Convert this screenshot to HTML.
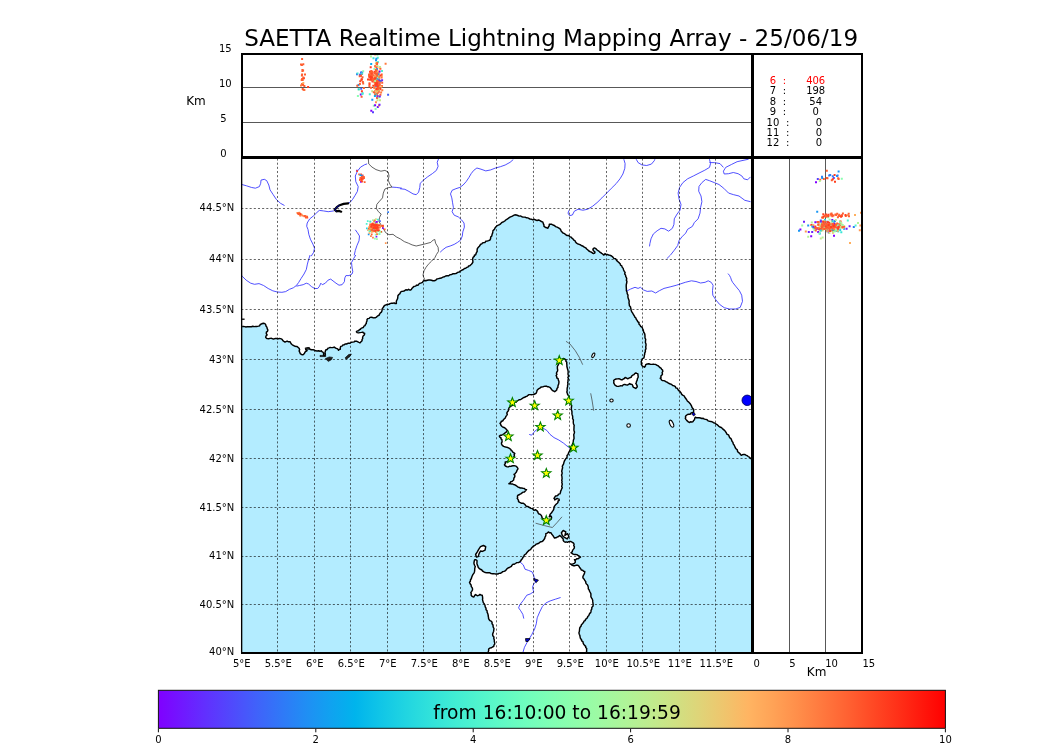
<!DOCTYPE html>
<html lang="en"><head><meta charset="utf-8"><title>SAETTA Realtime Lightning Mapping Array</title>
<style>html,body{margin:0;padding:0;background:#fff}body{width:1050px;height:750px;overflow:hidden}svg{display:block}text{font-family:"DejaVu Sans","Liberation Sans",sans-serif;fill:#000}</style>
</head><body>
<svg width="1050" height="750" viewBox="0 0 1050 750">
<defs>
<linearGradient id="rb" x1="0" y1="0" x2="1" y2="0"><stop offset="0.0000" stop-color="rgb(128,0,255)"/><stop offset="0.0312" stop-color="rgb(112,25,255)"/><stop offset="0.0625" stop-color="rgb(96,50,254)"/><stop offset="0.0938" stop-color="rgb(80,74,252)"/><stop offset="0.1250" stop-color="rgb(64,98,250)"/><stop offset="0.1562" stop-color="rgb(48,120,247)"/><stop offset="0.1875" stop-color="rgb(32,142,244)"/><stop offset="0.2188" stop-color="rgb(16,162,240)"/><stop offset="0.2500" stop-color="rgb(0,180,236)"/><stop offset="0.2812" stop-color="rgb(16,197,231)"/><stop offset="0.3125" stop-color="rgb(32,212,225)"/><stop offset="0.3438" stop-color="rgb(48,225,219)"/><stop offset="0.3750" stop-color="rgb(64,236,212)"/><stop offset="0.4062" stop-color="rgb(80,244,205)"/><stop offset="0.4375" stop-color="rgb(96,250,197)"/><stop offset="0.4688" stop-color="rgb(112,254,189)"/><stop offset="0.5000" stop-color="rgb(128,255,180)"/><stop offset="0.5312" stop-color="rgb(143,254,171)"/><stop offset="0.5625" stop-color="rgb(159,250,162)"/><stop offset="0.5938" stop-color="rgb(175,244,152)"/><stop offset="0.6250" stop-color="rgb(191,236,142)"/><stop offset="0.6562" stop-color="rgb(207,225,131)"/><stop offset="0.6875" stop-color="rgb(223,212,120)"/><stop offset="0.7188" stop-color="rgb(239,197,109)"/><stop offset="0.7500" stop-color="rgb(255,180,98)"/><stop offset="0.7812" stop-color="rgb(255,162,86)"/><stop offset="0.8125" stop-color="rgb(255,142,74)"/><stop offset="0.8438" stop-color="rgb(255,120,62)"/><stop offset="0.8750" stop-color="rgb(255,98,50)"/><stop offset="0.9062" stop-color="rgb(255,74,37)"/><stop offset="0.9375" stop-color="rgb(255,50,25)"/><stop offset="0.9688" stop-color="rgb(255,25,13)"/><stop offset="1.0000" stop-color="rgb(255,0,0)"/></linearGradient>
<clipPath id="mapclip"><rect x="241.0" y="156.9" width="511.0" height="495.49"/></clipPath>
<clipPath id="topclip"><rect x="242" y="54" width="510" height="103.5"/></clipPath>
<clipPath id="rightclip"><rect x="752.5" y="157.5" width="109.5" height="495.5"/></clipPath>
</defs>
<rect width="1050" height="750" fill="#fff"/>
<text x="244.2" y="46.2" font-size="23.6" textLength="614" lengthAdjust="spacingAndGlyphs" id="title">SAETTA Realtime Lightning Mapping Array - 25/06/19</text>
<g id="map" clip-path="url(#mapclip)">
<rect x="241.0" y="156.9" width="511.0" height="495.49" fill="#b3ecff"/>
<path d="M240.0 326.4L242.1 326.4L243.4 326.4L244.7 326.6L246.0 327.0L247.3 326.6L248.6 326.7L250.0 326.7L251.4 326.7L252.8 326.3L254.3 326.6L255.7 326.4L257.2 326.4L258.6 326.1L259.7 325.7L260.2 324.4L261.4 324.0L262.4 323.5L263.6 323.3L264.9 323.6L265.7 324.6L266.0 326.0L266.9 327.1L267.2 328.6L267.9 330.0L267.5 331.3L266.4 332.1L266.3 333.7L267.1 335.0L266.0 336.0L265.7 337.4L266.3 338.1L267.1 338.6L268.6 338.8L270.0 338.4L271.5 338.3L272.9 338.9L274.1 338.9L275.4 338.4L276.6 338.5L277.9 338.9L279.3 338.5L280.7 338.6L282.1 339.3L282.9 340.7L283.9 341.4L285.0 342.1L286.0 341.6L287.1 341.1L288.5 341.8L290.0 341.7L290.7 342.9L291.4 344.0L292.3 344.8L293.3 345.3L294.3 346.0L295.7 346.4L297.1 346.4L298.2 347.5L299.3 348.6L299.6 349.7L299.1 351.0L299.7 352.1L300.3 353.7L301.7 354.6L302.7 354.8L303.6 354.3L304.5 353.3L305.0 352.1L306.0 351.3L307.1 350.7L306.2 350.2L305.7 349.3L306.7 348.4L307.9 347.9L309.2 348.2L310.0 349.3L311.4 349.8L312.9 349.7L314.3 350.0L315.6 350.8L317.1 351.0L318.6 350.8L320.0 351.3L321.4 350.7L321.9 351.7L322.9 352.1L323.6 353.1L323.6 354.3L323.6 355.4L325.0 355.4L325.4 354.1L325.0 352.9L325.3 351.4L325.7 350.0L327.1 349.5L327.9 348.3L329.0 347.9L330.2 347.4L331.4 347.6L332.9 347.5L334.3 347.1L335.6 348.1L337.1 348.6L338.0 349.3L338.6 350.3L339.2 349.4L340.3 349.3L340.3 347.8L340.7 346.4L342.0 346.1L342.9 345.0L344.1 344.9L345.1 344.0L346.4 344.0L347.6 343.5L348.7 343.1L350.0 343.3L351.3 342.3L352.9 342.1L354.1 341.9L355.0 341.1L356.5 341.2L357.9 341.9L358.9 342.4L360.0 342.9L361.0 341.7L362.1 340.7L362.0 339.6L362.7 338.6L362.6 337.4L363.1 336.0L364.3 335.0L364.6 334.1L364.6 333.1L363.5 333.0L362.9 332.1L361.4 332.4L360.0 332.6L358.6 332.9L357.1 332.6L356.4 331.7L357.2 330.9L358.6 330.8L359.3 329.7L360.4 329.3L361.1 328.3L362.1 327.9L363.3 327.5L363.9 326.2L365.0 325.7L365.4 324.5L366.3 323.5L366.4 322.1L367.0 321.0L367.0 319.6L367.9 318.6L369.2 318.4L370.0 317.4L371.2 317.3L372.4 317.5L373.6 317.9L375.1 317.8L376.4 317.1L377.3 316.3L378.2 315.6L379.3 315.0L379.7 313.8L380.4 312.8L381.4 312.1L382.0 310.7L382.1 309.2L382.9 307.9L383.7 306.8L384.3 305.7L385.3 305.1L386.4 304.7L387.6 304.3L388.9 304.4L390.0 303.6L391.4 303.3L392.9 303.2L394.3 302.9L395.2 303.6L396.4 303.6L396.3 302.3L396.4 301.1L396.9 300.0L397.6 298.7L397.8 297.2L397.9 295.7L398.8 294.5L400.0 293.6L400.5 292.3L401.4 291.4L402.7 291.3L403.9 291.1L405.0 290.3L406.1 289.7L407.5 290.1L408.6 289.3L409.5 290.0L410.7 290.0L411.5 289.2L412.1 288.2L412.9 287.4L414.1 286.4L415.7 286.1L416.4 285.1L417.9 285.3L418.6 284.3L419.9 283.3L421.4 282.9L422.5 282.3L423.2 281.2L424.3 280.7L425.8 280.8L427.2 280.3L428.6 280.0L430.0 280.0L431.5 280.2L432.9 280.7L434.3 280.7L435.7 280.3L436.4 279.3L437.5 278.9L438.6 278.6L440.0 278.2L441.5 278.0L442.9 277.1L444.3 276.8L445.6 276.0L447.1 275.7L448.7 275.7L449.9 274.7L451.4 274.6L452.7 273.8L454.2 273.7L455.7 273.6L456.9 273.0L457.9 272.2L459.3 272.1L460.0 271.2L461.1 270.6L462.1 270.0L463.4 269.5L464.4 268.5L465.7 268.3L466.6 267.4L467.9 267.1L468.6 266.0L469.8 265.8L470.6 265.0L471.4 264.3L472.3 263.3L472.9 262.1L472.8 260.7L472.6 259.3L472.8 258.1L473.3 257.1L474.3 256.4L474.4 255.2L475.8 254.7L476.0 253.6L476.6 252.4L477.2 251.3L477.1 250.0L477.4 248.4L478.6 247.1L479.4 246.3L480.0 245.2L480.7 244.3L481.8 243.9L482.5 243.0L483.6 242.6L484.9 242.6L485.8 241.2L487.1 241.1L488.6 240.6L490.0 240.0L490.6 238.6L490.7 237.1L491.8 235.9L492.1 234.3L492.6 233.1L492.8 231.9L492.9 230.7L493.8 229.9L494.6 229.1L495.0 227.9L496.0 226.7L497.1 225.7L498.3 225.2L499.5 224.6L500.6 223.9L501.4 222.9L502.5 222.1L503.7 221.7L504.8 221.0L505.7 220.0L506.8 219.3L507.9 218.7L508.9 217.8L510.0 217.1L511.2 216.6L512.4 216.1L513.6 215.4L514.9 214.8L516.4 215.0L517.8 215.5L519.2 216.1L520.7 216.0L521.8 216.7L523.0 217.0L524.3 217.1L525.5 217.3L526.6 217.8L527.9 217.9L528.9 218.5L530.0 219.0L531.4 219.2L532.8 219.8L534.4 219.3L535.7 220.0L537.1 220.5L538.6 220.0L540.0 220.7L541.4 221.5L542.9 222.1L543.3 223.6L543.9 224.9L544.0 226.4L545.2 227.2L546.6 227.7L547.9 228.3L548.4 227.0L549.2 225.8L549.3 224.3L550.5 224.3L551.8 224.3L552.9 225.0L554.4 225.5L555.6 226.6L557.1 227.1L558.5 227.8L559.7 228.6L560.7 229.7L561.1 231.1L562.1 232.1L563.2 233.1L564.6 233.7L565.7 234.6L566.8 235.4L568.2 235.4L569.3 236.0L570.1 236.9L571.4 237.3L572.1 238.3L573.1 239.0L573.8 240.1L575.0 240.7L575.6 242.1L576.6 243.2L577.9 244.0L579.3 244.4L580.7 245.0L581.9 245.8L583.2 246.3L584.3 247.1L585.7 247.8L586.7 249.0L587.9 250.0L588.9 251.0L590.1 251.7L591.4 252.1L592.4 253.0L593.6 253.6L594.6 253.2L595.0 252.1L594.1 251.3L593.3 250.4L592.9 249.3L593.5 248.5L594.3 247.9L595.4 248.4L596.4 249.1L597.1 250.0L598.4 250.8L599.5 251.8L600.7 252.6L601.7 253.4L602.7 254.0L603.6 255.0L604.5 254.5L605.0 253.6L606.0 254.5L607.4 254.5L608.6 255.0L610.2 255.3L611.6 256.0L612.9 257.1L613.8 258.4L615.5 258.7L616.4 260.0L617.2 261.1L618.3 262.0L619.3 262.9L620.2 263.8L620.5 265.2L621.8 265.8L622.1 267.1L623.2 268.4L623.6 270.0L624.3 271.4L625.1 272.5L624.7 274.0L625.6 275.1L625.7 276.4L626.4 277.6L626.7 278.8L626.4 280.2L626.9 281.4L626.7 283.0L626.3 284.5L626.2 286.1L626.3 287.6L626.4 289.2L626.4 290.7L627.1 292.2L627.2 293.7L628.0 295.2L627.9 296.8L628.2 298.3L628.8 299.8L629.2 301.2L629.0 302.9L629.3 304.4L629.4 305.7L630.4 306.7L630.7 308.0L631.0 309.2L631.2 310.5L631.8 311.9L632.7 313.2L633.4 314.5L634.3 315.8L634.8 317.1L635.9 318.0L636.3 319.4L637.3 320.4L637.6 321.7L639.0 322.5L638.9 324.0L639.9 325.0L640.7 326.4L642.1 327.3L642.7 328.8L643.2 329.9L643.5 331.1L643.7 332.3L644.5 333.3L644.9 334.8L645.0 336.4L645.0 338.0L645.7 339.4L645.5 341.0L645.4 342.5L646.0 344.0L646.0 345.5L645.7 347.0L646.0 348.6L645.3 350.1L645.4 351.6L644.8 352.9L644.7 354.3L644.3 355.6L644.2 357.0L643.7 358.1L642.3 358.7L641.9 360.0L641.2 361.5L641.4 363.0L641.4 364.7L642.4 366.1L643.4 366.7L644.5 367.2L645.4 366.0L645.7 364.6L647.2 364.0L648.8 363.8L650.3 364.3L651.8 364.4L653.3 364.1L654.5 364.4L655.8 364.5L656.8 365.2L657.9 365.6L658.9 366.5L659.8 367.5L661.0 368.1L661.6 369.2L662.6 370.1L662.8 371.4L662.1 372.6L662.5 374.1L661.7 375.2L660.9 376.1L661.0 377.4L660.2 378.3L661.1 378.9L661.5 380.0L662.5 380.6L663.7 380.6L664.9 381.0L665.9 381.7L667.0 382.1L668.1 382.9L669.2 383.5L670.4 384.0L671.6 384.4L672.7 385.5L674.2 385.9L675.4 386.7L675.8 387.9L677.3 388.3L677.9 389.3L678.5 390.5L679.7 391.1L680.3 392.1L681.1 393.0L681.5 394.1L682.6 395.1L684.1 395.8L684.8 397.2L685.8 398.5L686.7 399.8L687.3 401.0L688.4 401.8L689.3 402.7L690.2 403.7L690.9 404.8L691.5 405.9L691.9 407.2L692.6 408.4L693.6 409.3L693.7 410.9L693.3 412.5L692.0 412.7L690.9 413.2L690.1 414.2L688.8 414.3L687.5 414.5L686.5 415.3L685.5 416.3L685.7 417.3L685.3 418.3L685.9 419.4L686.7 420.4L687.5 421.1L688.3 421.9L689.3 422.5L690.5 421.8L691.9 422.0L693.0 421.6L693.6 420.5L694.5 419.7L694.7 418.5L695.2 417.3L696.5 417.8L697.8 417.7L699.2 417.8L700.5 418.0L701.8 418.5L703.2 418.3L704.4 419.1L705.7 419.4L707.1 419.8L708.2 420.9L709.5 421.3L710.9 421.5L712.3 421.9L713.5 422.7L715.0 423.1L716.1 424.1L717.5 424.9L718.6 426.1L719.8 427.0L721.3 427.5L722.4 428.6L723.6 429.6L724.8 430.6L725.7 431.9L726.4 433.0L727.1 434.3L728.6 434.9L729.1 436.2L729.6 437.6L731.0 438.6L731.6 440.0L732.1 441.4L733.0 442.5L733.2 443.9L734.1 445.0L734.7 446.2L735.2 447.5L736.0 448.8L737.3 449.9L737.6 451.5L738.7 452.7L739.8 453.3L740.4 454.4L741.3 455.3L742.4 454.7L743.5 454.4L744.7 454.4L745.9 455.1L747.1 455.7L748.2 456.5L749.3 457.2L750.3 458.0L751.3 458.9L752.6 459.4L753.4 460.5L756.0 460.5L756.0 150.0L240.0 150.0Z" fill="#fff"/>
<path d="M613.7 380.6L614.7 379.6L616.0 379.0L617.5 378.9L619.0 378.7L620.1 379.1L621.0 379.8L622.1 379.8L623.1 379.1L624.3 378.5L625.1 377.5L626.4 378.0L627.4 378.7L628.5 378.5L629.4 377.9L630.5 377.5L631.4 377.0L631.8 375.8L632.8 375.2L633.9 374.7L634.7 373.6L635.8 373.0L636.8 373.4L637.8 373.7L637.9 375.0L638.2 376.2L638.1 377.5L637.4 378.7L637.2 380.1L636.6 381.3L636.3 382.5L635.8 383.6L636.6 384.5L636.9 385.6L637.3 386.7L636.6 387.6L635.8 388.5L634.7 387.8L633.5 387.4L632.9 386.5L632.6 385.3L632.0 384.4L630.8 384.3L629.7 383.6L628.6 384.4L627.4 385.1L625.9 384.8L624.4 384.4L623.1 384.9L622.1 385.9L620.8 385.8L619.5 386.1L618.3 386.4L616.7 386.2L615.2 385.4L614.4 384.2L613.7 382.9L613.9 381.7Z" fill="#fff"/>
<path d="M499.3 436.0L500.3 435.3L501.6 435.2L502.7 434.7L503.6 434.1L504.5 433.4L505.3 432.7L506.6 431.9L507.3 430.7L506.6 429.6L505.7 428.7L504.7 427.7L503.3 427.3L502.0 426.5L500.9 425.3L500.7 424.2L500.0 423.3L500.9 422.5L501.3 421.3L502.6 421.0L503.3 420.0L504.2 418.9L505.3 418.0L505.8 416.6L506.7 415.3L507.3 414.3L506.8 413.1L507.3 412.0L508.2 411.1L508.6 409.9L508.7 408.7L509.3 407.5L510.3 406.7L511.3 406.0L512.4 405.3L512.9 404.1L514.0 403.3L514.6 402.3L516.0 402.3L516.7 401.3L518.0 400.5L519.3 399.7L520.8 399.5L522.0 398.7L523.2 397.7L524.7 397.3L525.7 396.6L527.0 396.2L528.0 395.3L529.0 394.6L530.2 394.6L531.3 394.7L532.5 394.6L533.6 394.6L534.7 394.0L536.0 393.3L536.7 392.0L537.0 390.5L538.0 389.3L538.9 388.7L539.9 388.2L540.7 387.3L541.8 387.0L542.9 386.9L544.0 386.4L545.1 386.2L546.3 386.1L547.3 386.7L548.6 386.8L549.8 387.3L550.7 388.3L551.6 389.5L552.7 390.7L553.7 391.2L554.7 391.7L555.7 390.9L556.7 390.0L557.0 388.5L558.0 387.3L557.9 386.2L558.2 385.1L558.7 384.0L558.9 382.6L558.9 381.3L558.3 380.0L558.1 378.7L556.8 378.0L556.7 376.7L556.1 375.6L556.9 374.4L556.4 373.3L556.8 372.2L557.5 371.2L557.7 370.0L557.4 368.9L557.4 367.8L557.3 366.7L558.0 365.3L558.7 364.0L559.3 362.6L560.0 361.3L561.1 360.4L562.0 359.3L563.1 358.5L564.4 358.7L565.1 359.5L566.0 360.0L565.9 361.2L566.8 362.2L566.7 363.3L566.9 364.9L566.9 366.5L567.3 368.0L567.6 369.3L568.0 370.6L568.2 372.0L568.0 373.3L568.1 374.7L568.7 376.0L567.9 377.4L568.4 378.7L568.0 380.0L568.0 381.3L567.7 382.6L568.0 384.0L567.6 385.3L567.6 386.7L567.2 388.0L567.1 389.3L567.2 390.7L566.8 392.0L567.3 393.3L567.7 394.8L568.9 395.9L569.3 397.3L569.4 398.8L570.0 400.1L570.7 401.3L570.6 402.7L570.8 404.1L571.5 405.3L571.6 406.7L571.3 408.0L571.4 409.4L571.7 410.7L572.0 412.0L571.9 413.4L572.1 414.7L572.6 416.0L572.7 417.3L572.6 418.7L573.4 419.9L573.3 421.3L573.3 422.7L573.5 424.0L574.2 425.3L574.0 426.6L574.0 428.0L573.9 429.3L574.0 430.7L574.5 432.0L574.3 433.3L573.7 434.7L573.9 436.2L574.0 437.6L574.0 438.8L573.4 440.0L573.3 441.2L573.2 442.4L572.6 443.7L572.2 445.1L571.6 446.4L570.6 447.5L570.4 449.0L570.0 450.4L569.2 451.6L568.5 453.0L568.1 454.4L567.0 455.5L567.1 457.3L566.0 458.4L565.2 459.7L564.4 461.0L563.9 462.4L563.6 463.8L562.9 465.1L562.3 466.4L562.6 467.7L562.3 468.8L562.0 470.0L561.7 471.2L562.1 472.5L562.1 473.7L561.5 475.1L561.9 476.3L562.0 477.6L562.1 478.9L561.7 480.2L562.1 481.4L561.8 482.7L562.3 484.0L562.0 485.2L561.7 486.4L562.3 487.7L561.7 488.8L561.2 490.1L560.6 491.4L560.4 492.8L559.9 493.9L558.5 494.1L558.0 495.2L556.9 495.9L555.6 496.0L554.8 497.2L554.0 498.4L554.7 499.1L554.8 500.0L556.0 499.2L557.2 498.4L558.1 498.9L559.1 499.2L559.2 500.4L558.0 501.2L558.0 502.4L557.3 503.3L556.4 504.0L555.6 504.8L554.7 505.9L554.0 507.2L553.9 508.3L553.7 509.4L553.2 510.4L552.3 511.5L551.6 512.8L550.8 513.6L550.0 514.4L549.8 515.7L549.2 516.8L550.1 516.6L550.8 516.0L551.4 516.7L551.6 517.6L551.2 519.1L550.0 520.0L548.9 521.0L547.6 521.6L546.3 521.5L545.3 520.8L544.4 520.0L543.8 519.0L542.7 518.5L542.0 517.6L541.8 516.4L541.2 515.4L540.4 514.4L539.0 514.0L538.0 512.8L537.6 511.3L536.4 510.4L535.4 509.7L534.2 510.3L533.2 509.6L532.3 508.6L531.0 508.4L530.0 507.7L528.9 507.3L528.0 506.4L526.8 506.4L525.8 505.8L525.2 504.8L524.4 504.0L523.4 503.3L522.3 503.3L521.2 503.2L519.8 502.4L518.5 501.6L518.5 500.4L517.9 499.3L517.2 498.4L517.6 497.4L517.4 496.2L518.0 495.2L519.1 494.8L520.1 494.1L521.2 493.6L522.1 492.8L523.1 492.1L524.4 492.0L525.5 490.8L526.5 489.6L525.3 489.4L524.4 488.5L523.1 488.4L521.8 488.0L520.4 488.0L519.3 487.5L518.2 487.1L517.2 486.4L516.0 485.5L514.8 484.8L513.7 484.6L512.7 484.0L511.6 484.0L510.2 483.8L508.9 483.7L510.2 483.0L510.8 481.6L512.0 481.5L512.8 480.7L513.7 480.0L513.8 478.8L514.1 477.7L514.8 476.8L514.8 475.5L514.0 474.4L515.0 473.8L515.7 472.9L516.4 472.0L516.8 470.9L517.3 469.8L518.0 468.8L517.4 467.5L516.4 466.4L515.2 465.9L514.0 465.6L512.9 465.8L511.8 466.0L510.8 466.4L509.4 466.3L508.2 466.9L506.8 466.7L505.4 466.0L504.4 464.8L505.3 463.5L505.2 461.9L506.4 461.9L507.5 461.5L508.4 460.8L509.3 459.9L510.3 459.3L511.6 459.2L512.2 458.2L513.1 457.5L514.0 456.8L514.4 455.8L514.1 454.6L514.8 453.6L514.0 452.8L512.9 452.3L512.4 451.2L511.3 450.7L510.9 449.5L510.0 448.8L509.0 448.2L507.9 447.6L506.8 447.2L505.7 447.1L504.7 446.7L503.6 446.4L502.3 445.4L501.5 444.0L501.5 442.9L502.1 441.9L502.0 440.8L501.9 439.6L500.9 438.8L500.9 437.6L499.8 437.1Z" fill="#fff"/>
<path d="M487.7 654.2L488.3 652.9L488.3 651.6L488.7 650.3L488.6 649.0L489.8 648.1L491.2 647.8L492.5 647.0L493.8 646.4L493.9 645.2L494.7 644.1L494.7 642.9L494.3 641.5L494.3 640.0L493.8 638.6L493.9 637.0L492.8 635.7L492.6 634.2L493.1 632.8L493.6 631.4L493.8 629.9L494.0 628.5L493.3 627.3L493.0 626.0L492.9 624.7L492.0 623.7L492.1 622.2L491.2 621.2L490.0 620.7L489.2 619.8L488.6 618.6L488.5 617.3L488.2 616.0L488.1 614.7L487.7 613.4L487.1 612.2L487.1 610.7L486.0 609.7L486.0 608.2L485.2 606.9L485.0 605.3L484.3 603.9L483.3 602.6L482.9 601.1L482.5 599.6L482.7 598.1L482.5 596.7L482.2 595.2L481.0 595.0L479.9 594.4L478.8 595.4L477.3 595.7L476.4 595.2L475.6 594.4L474.6 595.5L473.9 597.0L472.8 596.7L471.8 596.1L471.1 595.0L471.3 593.7L470.8 592.6L471.7 591.4L472.5 590.0L472.5 588.7L472.1 587.6L471.3 586.6L471.1 585.0L470.1 583.7L469.5 582.2L470.4 581.2L470.5 579.8L471.3 578.8L471.7 577.2L472.3 575.8L473.0 574.4L474.0 573.1L474.5 571.7L474.7 570.1L474.7 568.9L474.9 567.8L475.3 566.6L474.7 565.5L474.2 564.4L473.9 563.1L474.1 562.0L474.3 560.8L474.7 559.7L476.0 559.8L477.0 560.5L477.0 562.0L476.9 563.5L477.3 564.9L477.9 566.1L478.2 567.3L479.1 568.4L480.2 569.3L481.6 569.8L482.5 571.0L483.9 571.8L485.3 572.5L486.9 572.7L488.4 572.8L489.9 572.8L491.2 573.6L492.5 573.7L493.8 573.8L495.1 573.9L496.4 573.9L497.8 574.0L499.0 573.4L500.4 573.3L501.6 572.7L502.5 571.7L503.8 571.4L505.0 571.0L506.0 570.1L506.9 568.9L508.0 568.0L509.4 567.5L510.4 566.9L511.4 566.3L512.0 565.2L513.0 564.3L514.4 564.2L515.5 563.5L516.8 562.6L518.5 562.6L519.8 561.8L520.8 560.9L521.4 559.6L522.4 558.8L522.8 557.5L523.8 556.6L524.2 555.3L525.0 554.5L526.1 553.8L526.8 552.7L527.6 551.8L528.4 550.9L529.4 550.1L530.6 549.6L531.2 548.5L532.0 547.5L532.8 546.7L534.0 545.8L535.3 545.1L536.3 544.1L537.5 543.7L538.8 543.3L539.8 542.3L540.9 541.7L542.2 541.5L543.2 540.6L544.0 539.5L544.7 538.5L545.0 537.1L545.6 536.1L545.9 534.9L545.8 533.7L547.3 533.1L548.4 531.9L549.6 532.8L551.0 532.8L551.8 534.2L552.8 535.4L553.6 536.7L554.5 538.0L555.9 537.8L557.1 537.1L558.6 536.5L559.7 535.4L560.6 536.2L561.5 537.1L562.3 538.0L563.2 539.0L563.2 540.4L564.0 541.5L565.1 542.2L566.4 541.9L567.5 542.3L568.6 541.7L569.7 541.5L571.0 541.5L572.3 542.3L573.6 543.2L574.1 544.3L573.7 545.6L574.4 546.7L574.3 548.0L573.5 549.1L572.7 550.1L572.2 551.7L571.0 552.7L572.1 553.5L573.2 554.1L574.4 554.5L575.7 554.5L576.9 554.6L577.9 555.3L579.2 556.2L580.5 557.1L579.2 557.9L577.9 558.8L576.7 558.7L575.7 559.8L574.4 559.7L575.2 560.9L575.3 562.3L574.2 563.4L572.7 564.0L571.4 564.3L570.1 564.0L571.4 564.4L572.3 565.4L573.6 565.7L575.0 565.7L576.4 565.1L577.9 565.2L579.0 566.2L579.6 567.5L580.7 568.7L581.4 570.1L582.7 570.2L583.6 571.2L584.8 571.5L584.6 573.0L584.0 574.4L583.3 575.7L582.8 577.0L583.2 578.3L584.2 579.3L584.8 580.5L585.7 581.4L585.8 582.9L586.4 584.0L587.4 584.8L588.0 586.1L588.3 587.4L588.3 588.9L589.2 590.0L589.6 591.3L590.3 592.5L590.9 593.8L590.9 595.2L590.9 596.7L591.5 597.9L592.3 599.1L592.7 600.4L592.8 601.9L593.0 603.3L593.2 604.8L592.9 606.3L591.8 607.5L591.8 609.1L591.1 610.1L591.0 611.4L590.7 612.6L589.7 613.4L589.2 614.5L588.7 615.7L587.7 616.5L587.4 617.8L586.4 618.5L585.6 619.4L585.1 620.6L584.0 621.2L583.4 622.6L582.4 623.7L581.4 624.7L581.0 626.2L579.9 627.5L579.6 629.0L579.5 630.3L579.3 631.6L578.9 632.9L579.3 634.2L579.9 635.6L580.1 637.1L580.5 638.6L581.5 639.5L581.6 640.9L582.9 641.6L583.1 642.9L583.7 644.3L584.6 645.4L585.7 646.4L585.7 647.6L586.7 648.6L586.6 649.8L586.7 651.3L586.1 652.7L586.2 654.2Z" fill="#fff"/>
<path d="M476.5 557.1L475.6 554.5L477.3 551.9L478.7 549.3L480.5 546.7L483.4 545.5L485.7 546.7L485.1 550.1L482.5 551.4L480.5 551.0L479.1 553.6L478.2 556.6Z" fill="#fff"/>
<path d="M561.4 532.8L563.2 530.5L565.8 531.9L564.9 535.4L567.5 533.7L568.9 536.3L567.2 538.9L564.0 537.1L562.3 535.4Z" fill="#fff"/>
<path d="M241.9 184.5L246.5 185.8L251.3 187.4L255.4 188.2L259.4 186.6L260.7 183.3L261.0 180.1L264.3 179.3L266.7 180.6L268.8 185.0L270.0 189.8L273.2 194.7L276.4 199.5L280.5 203.3L284.5 205.5M367.1 163.9L364.7 164.7L360.6 167.1L357.4 171.2L355.3 176.0L355.8 181.7L358.2 186.6L357.4 191.4L355.0 195.5L352.5 199.5L350.1 202.3L347.7 203.3M333.9 210.9L328.2 211.7L323.4 210.9L319.3 210.4L316.9 212.5L313.7 215.7L309.6 219.0L307.2 223.0L306.7 226.2L308.0 229.5L308.8 234.3L310.4 239.2L312.9 244.1L314.5 248.1L313.7 252.2L311.2 256.2M355.3 229.8L357.4 232.7L359.5 236.0L359.0 240.8L356.9 245.7L355.3 250.5L354.2 255.4M391.9 187.1L396.2 187.4L401.9 188.2M400.0 188.7L404.9 189.3L408.9 191.4L413.0 193.9L416.2 194.7L418.6 192.2L419.8 187.4L420.2 183.3L423.5 180.1L427.5 176.9L432.4 173.6L436.4 170.4L438.1 166.3L437.2 162.3L438.5 159.0M513.3 159.5L510.1 162.3L505.2 165.0L500.4 166.7L495.5 168.0L490.7 169.9L485.8 170.9L481.0 169.2L476.9 168.0L473.7 170.4L471.2 173.6L468.8 177.7L466.1 181.7L463.1 185.0L459.9 187.4L455.9 188.7L452.1 190.3L450.5 193.9L451.8 197.9L452.6 202.8L453.4 207.6L452.1 211.7L454.2 215.2L458.3 216.9L461.5 219.8L464.0 223.0L464.4 227.1L462.8 231.9L462.3 236.0L460.7 240.0L457.5 242.4L454.2 244.4L450.2 246.0L446.1 247.3L442.9 249.7L440.2 252.2M623.8 159.2L625.1 163.6L624.8 168.3L622.9 174.0L620.0 178.8L616.2 183.6L611.4 188.3L606.7 193.1L601.9 197.9L597.1 202.6L592.4 206.4L587.6 209.3L582.9 210.2L578.1 209.3L574.3 211.2L572.4 215.0L569.5 215.6L568.0 213.1L569.1 210.2M636.2 159.2L638.1 162.6L641.9 164.9L646.7 165.5L651.4 164.1L654.3 160.7L654.9 159.2M709.5 159.2L710.5 163.6L709.5 167.4L704.8 170.2L699.0 173.1L693.3 176.0L687.6 178.8L682.9 182.6L679.6 187.4L678.1 193.1L679.0 198.8L681.0 204.5L680.0 210.2L677.1 214.0L674.3 218.8L673.9 224.5L672.4 228.3L668.6 231.2L664.8 228.9L661.0 228.3L657.1 230.8L653.3 234.0L651.0 238.8L649.9 243.6L649.5 246.4M750.5 201.7L744.8 200.3L739.0 196.0L733.3 194.6L728.6 193.1L723.8 188.3L719.0 184.5L714.3 182.6L709.5 180.7L705.7 179.4L701.9 182.6L699.0 186.4L698.7 191.2L701.0 196.0L701.9 201.7L700.6 207.4L700.0 213.1L698.1 218.8L694.3 222.6L692.4 226.4L687.6 229.3L685.7 233.1L681.9 236.9L679.0 240.7L677.7 245.5L674.3 250.2L670.5 255.0L666.7 258.8M748.6 159.2L737.1 161.7L731.4 164.5L725.7 167.4L723.4 171.2L724.2 174.0L728.6 173.7L733.3 172.5L738.1 173.7L741.9 176.0L743.8 178.8L747.6 179.8L750.5 176.9M709.5 162.6L714.3 162.6L720.0 163.6L723.4 167.4M626.2 291.4L630.5 289.1L635.0 287.3L638.1 288.4L640.4 287.3L643.4 289.9L647.2 291.4L651.8 291.0L655.6 293.0L659.4 290.7L664.0 288.4L670.1 286.9L676.2 285.3L680.8 283.8L685.3 282.3L691.4 280.8L696.0 281.5L700.6 283.0L705.1 282.3L708.2 280.8L711.2 282.3L713.1 285.3L712.5 290.7L712.8 295.2L715.8 299.8L719.6 304.4L724.2 307.7L729.5 309.0L735.6 309.0L740.2 307.4L742.5 301.3L741.7 295.2L739.4 290.7L735.6 286.1L732.6 282.3L731.4 280.0L730.7 277.7L729.5 275.4L728.0 273.6M529.2 434.4L531.6 435.2L534.8 431.2L538.0 428.8L542.8 428.0L546.8 430.4L550.0 434.4L554.0 437.6L558.8 440.0L563.6 443.2L568.4 447.2L571.6 448.5M519.8 561.8L523.3 564.9L525.0 569.2L528.5 570.4L532.0 571.8L533.7 575.3L534.6 579.6L536.3 581.4L533.7 584.0L532.5 587.4L533.7 591.8L530.2 594.0L526.8 595.2L523.3 600.4L519.8 604.8L518.6 607.9L520.7 610.8L522.8 614.3L523.8 618.6M560.6 597.5L555.4 599.2L550.2 600.9L545.8 603.0L542.4 606.5L539.8 611.7L537.2 617.8L536.3 623.8L534.6 629.0L532.0 634.2L529.4 638.6L526.8 642.9L524.5 647.2L522.4 654.2M310.1 255.0L308.6 259.6L307.4 264.1L306.3 269.5L304.0 274.0L301.0 278.6L298.7 282.4L296.4 285.5L293.3 287.8L289.5 289.3L285.7 291.6L281.9 292.3L277.3 292.0L272.8 290.8L268.2 288.5L263.6 285.5L259.0 283.6L254.5 284.3L250.7 283.2L246.1 280.1L242.3 276.3L240.8 274.5M355.8 255.0L353.5 258.8L351.5 262.6L352.0 267.2L352.8 271.8L352.0 274.0L349.0 275.6L345.9 275.6L344.8 277.9L344.4 281.7L342.1 284.7L339.0 285.2L336.0 283.2L333.0 280.9L330.7 279.1L328.1 280.1L325.3 283.2L322.3 284.7L320.8 283.2L319.5 286.2L317.7 288.5L314.7 288.5L311.6 286.7L308.6 284.0L306.3 283.2L303.2 284.7L299.4 285.5L296.4 286.2" fill="none" stroke="#3030ff" stroke-width="0.85" stroke-linejoin="round"/>
<path d="M368.2 156.6L368.7 163.9L372.0 167.1L376.0 169.6L380.9 171.2L384.9 170.4L388.2 172.0L389.0 176.0L388.2 180.1L389.8 184.1L391.9 187.1L388.2 187.7L384.9 189.0L383.3 193.1L382.5 197.9L379.6 201.1L376.8 204.4L376.3 208.4L378.4 211.7L381.2 214.1L379.6 217.3L378.9 221.4L380.9 224.6L383.3 228.7L385.7 232.7L389.0 234.7L393.0 234.3L396.2 236.8L400.3 238.9L404.3 241.6L408.4 243.2L412.1 244.9L416.2 246.0L421.0 244.9L425.9 243.7L430.8 242.4L433.2 240.0L434.8 239.5L435.6 243.2L438.1 247.3L438.5 251.3L436.4 254.6L434.8 257.8L431.6 261.1L428.3 264.3L425.9 267.5L424.0 270.8L423.0 275.0L423.6 277.1L425.0 280.0" fill="none" stroke="#3a3a3a" stroke-width="0.8" stroke-linejoin="round"/>
<path d="M566.0 341.3L570.0 344.0L575.3 350.7L579.3 357.3L582.7 364.7M590.7 393.3L592.0 400.0L593.7 410.7M535.6 523.2L544.4 525.6L552.4 527.5L557.2 522.4L562.0 516.8" fill="none" stroke="#3a3a3a" stroke-width="0.7" stroke-linejoin="round"/>
<path d="M242.1 326.4L243.4 326.4L244.7 326.6L246.0 327.0L247.3 326.6L248.6 326.7L250.0 326.7L251.4 326.7L252.8 326.3L254.3 326.6L255.7 326.4L257.2 326.4L258.6 326.1L259.7 325.7L260.2 324.4L261.4 324.0L262.4 323.5L263.6 323.3L264.9 323.6L265.7 324.6L266.0 326.0L266.9 327.1L267.2 328.6L267.9 330.0L267.5 331.3L266.4 332.1L266.3 333.7L267.1 335.0L266.0 336.0L265.7 337.4L266.3 338.1L267.1 338.6L268.6 338.8L270.0 338.4L271.5 338.3L272.9 338.9L274.1 338.9L275.4 338.4L276.6 338.5L277.9 338.9L279.3 338.5L280.7 338.6L282.1 339.3L282.9 340.7L283.9 341.4L285.0 342.1L286.0 341.6L287.1 341.1L288.5 341.8L290.0 341.7L290.7 342.9L291.4 344.0L292.3 344.8L293.3 345.3L294.3 346.0L295.7 346.4L297.1 346.4L298.2 347.5L299.3 348.6L299.6 349.7L299.1 351.0L299.7 352.1L300.3 353.7L301.7 354.6L302.7 354.8L303.6 354.3L304.5 353.3L305.0 352.1L306.0 351.3L307.1 350.7L306.2 350.2L305.7 349.3L306.7 348.4L307.9 347.9L309.2 348.2L310.0 349.3L311.4 349.8L312.9 349.7L314.3 350.0L315.6 350.8L317.1 351.0L318.6 350.8L320.0 351.3L321.4 350.7L321.9 351.7L322.9 352.1L323.6 353.1L323.6 354.3L323.6 355.4L325.0 355.4L325.4 354.1L325.0 352.9L325.3 351.4L325.7 350.0L327.1 349.5L327.9 348.3L329.0 347.9L330.2 347.4L331.4 347.6L332.9 347.5L334.3 347.1L335.6 348.1L337.1 348.6L338.0 349.3L338.6 350.3L339.2 349.4L340.3 349.3L340.3 347.8L340.7 346.4L342.0 346.1L342.9 345.0L344.1 344.9L345.1 344.0L346.4 344.0L347.6 343.5L348.7 343.1L350.0 343.3L351.3 342.3L352.9 342.1L354.1 341.9L355.0 341.1L356.5 341.2L357.9 341.9L358.9 342.4L360.0 342.9L361.0 341.7L362.1 340.7L362.0 339.6L362.7 338.6L362.6 337.4L363.1 336.0L364.3 335.0L364.6 334.1L364.6 333.1L363.5 333.0L362.9 332.1L361.4 332.4L360.0 332.6L358.6 332.9L357.1 332.6L356.4 331.7L357.2 330.9L358.6 330.8L359.3 329.7L360.4 329.3L361.1 328.3L362.1 327.9L363.3 327.5L363.9 326.2L365.0 325.7L365.4 324.5L366.3 323.5L366.4 322.1L367.0 321.0L367.0 319.6L367.9 318.6L369.2 318.4L370.0 317.4L371.2 317.3L372.4 317.5L373.6 317.9L375.1 317.8L376.4 317.1L377.3 316.3L378.2 315.6L379.3 315.0L379.7 313.8L380.4 312.8L381.4 312.1L382.0 310.7L382.1 309.2L382.9 307.9L383.7 306.8L384.3 305.7L385.3 305.1L386.4 304.7L387.6 304.3L388.9 304.4L390.0 303.6L391.4 303.3L392.9 303.2L394.3 302.9L395.2 303.6L396.4 303.6L396.3 302.3L396.4 301.1L396.9 300.0L397.6 298.7L397.8 297.2L397.9 295.7L398.8 294.5L400.0 293.6L400.5 292.3L401.4 291.4L402.7 291.3L403.9 291.1L405.0 290.3L406.1 289.7L407.5 290.1L408.6 289.3L409.5 290.0L410.7 290.0L411.5 289.2L412.1 288.2L412.9 287.4L414.1 286.4L415.7 286.1L416.4 285.1L417.9 285.3L418.6 284.3L419.9 283.3L421.4 282.9L422.5 282.3L423.2 281.2L424.3 280.7L425.8 280.8L427.2 280.3L428.6 280.0L430.0 280.0L431.5 280.2L432.9 280.7L434.3 280.7L435.7 280.3L436.4 279.3L437.5 278.9L438.6 278.6L440.0 278.2L441.5 278.0L442.9 277.1L444.3 276.8L445.6 276.0L447.1 275.7L448.7 275.7L449.9 274.7L451.4 274.6L452.7 273.8L454.2 273.7L455.7 273.6L456.9 273.0L457.9 272.2L459.3 272.1L460.0 271.2L461.1 270.6L462.1 270.0L463.4 269.5L464.4 268.5L465.7 268.3L466.6 267.4L467.9 267.1L468.6 266.0L469.8 265.8L470.6 265.0L471.4 264.3L472.3 263.3L472.9 262.1L472.8 260.7L472.6 259.3L472.8 258.1L473.3 257.1L474.3 256.4L474.4 255.2L475.8 254.7L476.0 253.6L476.6 252.4L477.2 251.3L477.1 250.0L477.4 248.4L478.6 247.1L479.4 246.3L480.0 245.2L480.7 244.3L481.8 243.9L482.5 243.0L483.6 242.6L484.9 242.6L485.8 241.2L487.1 241.1L488.6 240.6L490.0 240.0L490.6 238.6L490.7 237.1L491.8 235.9L492.1 234.3L492.6 233.1L492.8 231.9L492.9 230.7L493.8 229.9L494.6 229.1L495.0 227.9L496.0 226.7L497.1 225.7L498.3 225.2L499.5 224.6L500.6 223.9L501.4 222.9L502.5 222.1L503.7 221.7L504.8 221.0L505.7 220.0L506.8 219.3L507.9 218.7L508.9 217.8L510.0 217.1L511.2 216.6L512.4 216.1L513.6 215.4L514.9 214.8L516.4 215.0L517.8 215.5L519.2 216.1L520.7 216.0L521.8 216.7L523.0 217.0L524.3 217.1L525.5 217.3L526.6 217.8L527.9 217.9L528.9 218.5L530.0 219.0L531.4 219.2L532.8 219.8L534.4 219.3L535.7 220.0L537.1 220.5L538.6 220.0L540.0 220.7L541.4 221.5L542.9 222.1L543.3 223.6L543.9 224.9L544.0 226.4L545.2 227.2L546.6 227.7L547.9 228.3L548.4 227.0L549.2 225.8L549.3 224.3L550.5 224.3L551.8 224.3L552.9 225.0L554.4 225.5L555.6 226.6L557.1 227.1L558.5 227.8L559.7 228.6L560.7 229.7L561.1 231.1L562.1 232.1L563.2 233.1L564.6 233.7L565.7 234.6L566.8 235.4L568.2 235.4L569.3 236.0L570.1 236.9L571.4 237.3L572.1 238.3L573.1 239.0L573.8 240.1L575.0 240.7L575.6 242.1L576.6 243.2L577.9 244.0L579.3 244.4L580.7 245.0L581.9 245.8L583.2 246.3L584.3 247.1L585.7 247.8L586.7 249.0L587.9 250.0L588.9 251.0L590.1 251.7L591.4 252.1L592.4 253.0L593.6 253.6L594.6 253.2L595.0 252.1L594.1 251.3L593.3 250.4L592.9 249.3L593.5 248.5L594.3 247.9L595.4 248.4L596.4 249.1L597.1 250.0L598.4 250.8L599.5 251.8L600.7 252.6L601.7 253.4L602.7 254.0L603.6 255.0L604.5 254.5L605.0 253.6L606.0 254.5L607.4 254.5L608.6 255.0L610.2 255.3L611.6 256.0L612.9 257.1L613.8 258.4L615.5 258.7L616.4 260.0L617.2 261.1L618.3 262.0L619.3 262.9L620.2 263.8L620.5 265.2L621.8 265.8L622.1 267.1L623.2 268.4L623.6 270.0L624.3 271.4L625.1 272.5L624.7 274.0L625.6 275.1L625.7 276.4L626.4 277.6L626.7 278.8L626.4 280.2L626.9 281.4L626.7 283.0L626.3 284.5L626.2 286.1L626.3 287.6L626.4 289.2L626.4 290.7L627.1 292.2L627.2 293.7L628.0 295.2L627.9 296.8L628.2 298.3L628.8 299.8L629.2 301.2L629.0 302.9L629.3 304.4L629.4 305.7L630.4 306.7L630.7 308.0L631.0 309.2L631.2 310.5L631.8 311.9L632.7 313.2L633.4 314.5L634.3 315.8L634.8 317.1L635.9 318.0L636.3 319.4L637.3 320.4L637.6 321.7L639.0 322.5L638.9 324.0L639.9 325.0L640.7 326.4L642.1 327.3L642.7 328.8L643.2 329.9L643.5 331.1L643.7 332.3L644.5 333.3L644.9 334.8L645.0 336.4L645.0 338.0L645.7 339.4L645.5 341.0L645.4 342.5L646.0 344.0L646.0 345.5L645.7 347.0L646.0 348.6L645.3 350.1L645.4 351.6L644.8 352.9L644.7 354.3L644.3 355.6L644.2 357.0L643.7 358.1L642.3 358.7L641.9 360.0L641.2 361.5L641.4 363.0L641.4 364.7L642.4 366.1L643.4 366.7L644.5 367.2L645.4 366.0L645.7 364.6L647.2 364.0L648.8 363.8L650.3 364.3L651.8 364.4L653.3 364.1L654.5 364.4L655.8 364.5L656.8 365.2L657.9 365.6L658.9 366.5L659.8 367.5L661.0 368.1L661.6 369.2L662.6 370.1L662.8 371.4L662.1 372.6L662.5 374.1L661.7 375.2L660.9 376.1L661.0 377.4L660.2 378.3L661.1 378.9L661.5 380.0L662.5 380.6L663.7 380.6L664.9 381.0L665.9 381.7L667.0 382.1L668.1 382.9L669.2 383.5L670.4 384.0L671.6 384.4L672.7 385.5L674.2 385.9L675.4 386.7L675.8 387.9L677.3 388.3L677.9 389.3L678.5 390.5L679.7 391.1L680.3 392.1L681.1 393.0L681.5 394.1L682.6 395.1L684.1 395.8L684.8 397.2L685.8 398.5L686.7 399.8L687.3 401.0L688.4 401.8L689.3 402.7L690.2 403.7L690.9 404.8L691.5 405.9L691.9 407.2L692.6 408.4L693.6 409.3L693.7 410.9L693.3 412.5L692.0 412.7L690.9 413.2L690.1 414.2L688.8 414.3L687.5 414.5L686.5 415.3L685.5 416.3L685.7 417.3L685.3 418.3L685.9 419.4L686.7 420.4L687.5 421.1L688.3 421.9L689.3 422.5L690.5 421.8L691.9 422.0L693.0 421.6L693.6 420.5L694.5 419.7L694.7 418.5L695.2 417.3L696.5 417.8L697.8 417.7L699.2 417.8L700.5 418.0L701.8 418.5L703.2 418.3L704.4 419.1L705.7 419.4L707.1 419.8L708.2 420.9L709.5 421.3L710.9 421.5L712.3 421.9L713.5 422.7L715.0 423.1L716.1 424.1L717.5 424.9L718.6 426.1L719.8 427.0L721.3 427.5L722.4 428.6L723.6 429.6L724.8 430.6L725.7 431.9L726.4 433.0L727.1 434.3L728.6 434.9L729.1 436.2L729.6 437.6L731.0 438.6L731.6 440.0L732.1 441.4L733.0 442.5L733.2 443.9L734.1 445.0L734.7 446.2L735.2 447.5L736.0 448.8L737.3 449.9L737.6 451.5L738.7 452.7L739.8 453.3L740.4 454.4L741.3 455.3L742.4 454.7L743.5 454.4L744.7 454.4L745.9 455.1L747.1 455.7L748.2 456.5L749.3 457.2L750.3 458.0L751.3 458.9L752.6 459.4L753.4 460.5M613.7 380.6L614.7 379.6L616.0 379.0L617.5 378.9L619.0 378.7L620.1 379.1L621.0 379.8L622.1 379.8L623.1 379.1L624.3 378.5L625.1 377.5L626.4 378.0L627.4 378.7L628.5 378.5L629.4 377.9L630.5 377.5L631.4 377.0L631.8 375.8L632.8 375.2L633.9 374.7L634.7 373.6L635.8 373.0L636.8 373.4L637.8 373.7L637.9 375.0L638.2 376.2L638.1 377.5L637.4 378.7L637.2 380.1L636.6 381.3L636.3 382.5L635.8 383.6L636.6 384.5L636.9 385.6L637.3 386.7L636.6 387.6L635.8 388.5L634.7 387.8L633.5 387.4L632.9 386.5L632.6 385.3L632.0 384.4L630.8 384.3L629.7 383.6L628.6 384.4L627.4 385.1L625.9 384.8L624.4 384.4L623.1 384.9L622.1 385.9L620.8 385.8L619.5 386.1L618.3 386.4L616.7 386.2L615.2 385.4L614.4 384.2L613.7 382.9L613.9 381.7ZM499.3 436.0L500.3 435.3L501.6 435.2L502.7 434.7L503.6 434.1L504.5 433.4L505.3 432.7L506.6 431.9L507.3 430.7L506.6 429.6L505.7 428.7L504.7 427.7L503.3 427.3L502.0 426.5L500.9 425.3L500.7 424.2L500.0 423.3L500.9 422.5L501.3 421.3L502.6 421.0L503.3 420.0L504.2 418.9L505.3 418.0L505.8 416.6L506.7 415.3L507.3 414.3L506.8 413.1L507.3 412.0L508.2 411.1L508.6 409.9L508.7 408.7L509.3 407.5L510.3 406.7L511.3 406.0L512.4 405.3L512.9 404.1L514.0 403.3L514.6 402.3L516.0 402.3L516.7 401.3L518.0 400.5L519.3 399.7L520.8 399.5L522.0 398.7L523.2 397.7L524.7 397.3L525.7 396.6L527.0 396.2L528.0 395.3L529.0 394.6L530.2 394.6L531.3 394.7L532.5 394.6L533.6 394.6L534.7 394.0L536.0 393.3L536.7 392.0L537.0 390.5L538.0 389.3L538.9 388.7L539.9 388.2L540.7 387.3L541.8 387.0L542.9 386.9L544.0 386.4L545.1 386.2L546.3 386.1L547.3 386.7L548.6 386.8L549.8 387.3L550.7 388.3L551.6 389.5L552.7 390.7L553.7 391.2L554.7 391.7L555.7 390.9L556.7 390.0L557.0 388.5L558.0 387.3L557.9 386.2L558.2 385.1L558.7 384.0L558.9 382.6L558.9 381.3L558.3 380.0L558.1 378.7L556.8 378.0L556.7 376.7L556.1 375.6L556.9 374.4L556.4 373.3L556.8 372.2L557.5 371.2L557.7 370.0L557.4 368.9L557.4 367.8L557.3 366.7L558.0 365.3L558.7 364.0L559.3 362.6L560.0 361.3L561.1 360.4L562.0 359.3L563.1 358.5L564.4 358.7L565.1 359.5L566.0 360.0L565.9 361.2L566.8 362.2L566.7 363.3L566.9 364.9L566.9 366.5L567.3 368.0L567.6 369.3L568.0 370.6L568.2 372.0L568.0 373.3L568.1 374.7L568.7 376.0L567.9 377.4L568.4 378.7L568.0 380.0L568.0 381.3L567.7 382.6L568.0 384.0L567.6 385.3L567.6 386.7L567.2 388.0L567.1 389.3L567.2 390.7L566.8 392.0L567.3 393.3L567.7 394.8L568.9 395.9L569.3 397.3L569.4 398.8L570.0 400.1L570.7 401.3L570.6 402.7L570.8 404.1L571.5 405.3L571.6 406.7L571.3 408.0L571.4 409.4L571.7 410.7L572.0 412.0L571.9 413.4L572.1 414.7L572.6 416.0L572.7 417.3L572.6 418.7L573.4 419.9L573.3 421.3L573.3 422.7L573.5 424.0L574.2 425.3L574.0 426.6L574.0 428.0L573.9 429.3L574.0 430.7L574.5 432.0L574.3 433.3L573.7 434.7L573.9 436.2L574.0 437.6L574.0 438.8L573.4 440.0L573.3 441.2L573.2 442.4L572.6 443.7L572.2 445.1L571.6 446.4L570.6 447.5L570.4 449.0L570.0 450.4L569.2 451.6L568.5 453.0L568.1 454.4L567.0 455.5L567.1 457.3L566.0 458.4L565.2 459.7L564.4 461.0L563.9 462.4L563.6 463.8L562.9 465.1L562.3 466.4L562.6 467.7L562.3 468.8L562.0 470.0L561.7 471.2L562.1 472.5L562.1 473.7L561.5 475.1L561.9 476.3L562.0 477.6L562.1 478.9L561.7 480.2L562.1 481.4L561.8 482.7L562.3 484.0L562.0 485.2L561.7 486.4L562.3 487.7L561.7 488.8L561.2 490.1L560.6 491.4L560.4 492.8L559.9 493.9L558.5 494.1L558.0 495.2L556.9 495.9L555.6 496.0L554.8 497.2L554.0 498.4L554.7 499.1L554.8 500.0L556.0 499.2L557.2 498.4L558.1 498.9L559.1 499.2L559.2 500.4L558.0 501.2L558.0 502.4L557.3 503.3L556.4 504.0L555.6 504.8L554.7 505.9L554.0 507.2L553.9 508.3L553.7 509.4L553.2 510.4L552.3 511.5L551.6 512.8L550.8 513.6L550.0 514.4L549.8 515.7L549.2 516.8L550.1 516.6L550.8 516.0L551.4 516.7L551.6 517.6L551.2 519.1L550.0 520.0L548.9 521.0L547.6 521.6L546.3 521.5L545.3 520.8L544.4 520.0L543.8 519.0L542.7 518.5L542.0 517.6L541.8 516.4L541.2 515.4L540.4 514.4L539.0 514.0L538.0 512.8L537.6 511.3L536.4 510.4L535.4 509.7L534.2 510.3L533.2 509.6L532.3 508.6L531.0 508.4L530.0 507.7L528.9 507.3L528.0 506.4L526.8 506.4L525.8 505.8L525.2 504.8L524.4 504.0L523.4 503.3L522.3 503.3L521.2 503.2L519.8 502.4L518.5 501.6L518.5 500.4L517.9 499.3L517.2 498.4L517.6 497.4L517.4 496.2L518.0 495.2L519.1 494.8L520.1 494.1L521.2 493.6L522.1 492.8L523.1 492.1L524.4 492.0L525.5 490.8L526.5 489.6L525.3 489.4L524.4 488.5L523.1 488.4L521.8 488.0L520.4 488.0L519.3 487.5L518.2 487.1L517.2 486.4L516.0 485.5L514.8 484.8L513.7 484.6L512.7 484.0L511.6 484.0L510.2 483.8L508.9 483.7L510.2 483.0L510.8 481.6L512.0 481.5L512.8 480.7L513.7 480.0L513.8 478.8L514.1 477.7L514.8 476.8L514.8 475.5L514.0 474.4L515.0 473.8L515.7 472.9L516.4 472.0L516.8 470.9L517.3 469.8L518.0 468.8L517.4 467.5L516.4 466.4L515.2 465.9L514.0 465.6L512.9 465.8L511.8 466.0L510.8 466.4L509.4 466.3L508.2 466.9L506.8 466.7L505.4 466.0L504.4 464.8L505.3 463.5L505.2 461.9L506.4 461.9L507.5 461.5L508.4 460.8L509.3 459.9L510.3 459.3L511.6 459.2L512.2 458.2L513.1 457.5L514.0 456.8L514.4 455.8L514.1 454.6L514.8 453.6L514.0 452.8L512.9 452.3L512.4 451.2L511.3 450.7L510.9 449.5L510.0 448.8L509.0 448.2L507.9 447.6L506.8 447.2L505.7 447.1L504.7 446.7L503.6 446.4L502.3 445.4L501.5 444.0L501.5 442.9L502.1 441.9L502.0 440.8L501.9 439.6L500.9 438.8L500.9 437.6L499.8 437.1ZM487.7 654.2L488.3 652.9L488.3 651.6L488.7 650.3L488.6 649.0L489.8 648.1L491.2 647.8L492.5 647.0L493.8 646.4L493.9 645.2L494.7 644.1L494.7 642.9L494.3 641.5L494.3 640.0L493.8 638.6L493.9 637.0L492.8 635.7L492.6 634.2L493.1 632.8L493.6 631.4L493.8 629.9L494.0 628.5L493.3 627.3L493.0 626.0L492.9 624.7L492.0 623.7L492.1 622.2L491.2 621.2L490.0 620.7L489.2 619.8L488.6 618.6L488.5 617.3L488.2 616.0L488.1 614.7L487.7 613.4L487.1 612.2L487.1 610.7L486.0 609.7L486.0 608.2L485.2 606.9L485.0 605.3L484.3 603.9L483.3 602.6L482.9 601.1L482.5 599.6L482.7 598.1L482.5 596.7L482.2 595.2L481.0 595.0L479.9 594.4L478.8 595.4L477.3 595.7L476.4 595.2L475.6 594.4L474.6 595.5L473.9 597.0L472.8 596.7L471.8 596.1L471.1 595.0L471.3 593.7L470.8 592.6L471.7 591.4L472.5 590.0L472.5 588.7L472.1 587.6L471.3 586.6L471.1 585.0L470.1 583.7L469.5 582.2L470.4 581.2L470.5 579.8L471.3 578.8L471.7 577.2L472.3 575.8L473.0 574.4L474.0 573.1L474.5 571.7L474.7 570.1L474.7 568.9L474.9 567.8L475.3 566.6L474.7 565.5L474.2 564.4L473.9 563.1L474.1 562.0L474.3 560.8L474.7 559.7L476.0 559.8L477.0 560.5L477.0 562.0L476.9 563.5L477.3 564.9L477.9 566.1L478.2 567.3L479.1 568.4L480.2 569.3L481.6 569.8L482.5 571.0L483.9 571.8L485.3 572.5L486.9 572.7L488.4 572.8L489.9 572.8L491.2 573.6L492.5 573.7L493.8 573.8L495.1 573.9L496.4 573.9L497.8 574.0L499.0 573.4L500.4 573.3L501.6 572.7L502.5 571.7L503.8 571.4L505.0 571.0L506.0 570.1L506.9 568.9L508.0 568.0L509.4 567.5L510.4 566.9L511.4 566.3L512.0 565.2L513.0 564.3L514.4 564.2L515.5 563.5L516.8 562.6L518.5 562.6L519.8 561.8L520.8 560.9L521.4 559.6L522.4 558.8L522.8 557.5L523.8 556.6L524.2 555.3L525.0 554.5L526.1 553.8L526.8 552.7L527.6 551.8L528.4 550.9L529.4 550.1L530.6 549.6L531.2 548.5L532.0 547.5L532.8 546.7L534.0 545.8L535.3 545.1L536.3 544.1L537.5 543.7L538.8 543.3L539.8 542.3L540.9 541.7L542.2 541.5L543.2 540.6L544.0 539.5L544.7 538.5L545.0 537.1L545.6 536.1L545.9 534.9L545.8 533.7L547.3 533.1L548.4 531.9L549.6 532.8L551.0 532.8L551.8 534.2L552.8 535.4L553.6 536.7L554.5 538.0L555.9 537.8L557.1 537.1L558.6 536.5L559.7 535.4L560.6 536.2L561.5 537.1L562.3 538.0L563.2 539.0L563.2 540.4L564.0 541.5L565.1 542.2L566.4 541.9L567.5 542.3L568.6 541.7L569.7 541.5L571.0 541.5L572.3 542.3L573.6 543.2L574.1 544.3L573.7 545.6L574.4 546.7L574.3 548.0L573.5 549.1L572.7 550.1L572.2 551.7L571.0 552.7L572.1 553.5L573.2 554.1L574.4 554.5L575.7 554.5L576.9 554.6L577.9 555.3L579.2 556.2L580.5 557.1L579.2 557.9L577.9 558.8L576.7 558.7L575.7 559.8L574.4 559.7L575.2 560.9L575.3 562.3L574.2 563.4L572.7 564.0L571.4 564.3L570.1 564.0L571.4 564.4L572.3 565.4L573.6 565.7L575.0 565.7L576.4 565.1L577.9 565.2L579.0 566.2L579.6 567.5L580.7 568.7L581.4 570.1L582.7 570.2L583.6 571.2L584.8 571.5L584.6 573.0L584.0 574.4L583.3 575.7L582.8 577.0L583.2 578.3L584.2 579.3L584.8 580.5L585.7 581.4L585.8 582.9L586.4 584.0L587.4 584.8L588.0 586.1L588.3 587.4L588.3 588.9L589.2 590.0L589.6 591.3L590.3 592.5L590.9 593.8L590.9 595.2L590.9 596.7L591.5 597.9L592.3 599.1L592.7 600.4L592.8 601.9L593.0 603.3L593.2 604.8L592.9 606.3L591.8 607.5L591.8 609.1L591.1 610.1L591.0 611.4L590.7 612.6L589.7 613.4L589.2 614.5L588.7 615.7L587.7 616.5L587.4 617.8L586.4 618.5L585.6 619.4L585.1 620.6L584.0 621.2L583.4 622.6L582.4 623.7L581.4 624.7L581.0 626.2L579.9 627.5L579.6 629.0L579.5 630.3L579.3 631.6L578.9 632.9L579.3 634.2L579.9 635.6L580.1 637.1L580.5 638.6L581.5 639.5L581.6 640.9L582.9 641.6L583.1 642.9L583.7 644.3L584.6 645.4L585.7 646.4L585.7 647.6L586.7 648.6L586.6 649.8L586.7 651.3L586.1 652.7L586.2 654.2M476.5 557.1L475.6 554.5L477.3 551.9L478.7 549.3L480.5 546.7L483.4 545.5L485.7 546.7L485.1 550.1L482.5 551.4L480.5 551.0L479.1 553.6L478.2 556.6ZM561.4 532.8L563.2 530.5L565.8 531.9L564.9 535.4L567.5 533.7L568.9 536.3L567.2 538.9L564.0 537.1L562.3 535.4Z" fill="none" stroke="#000" stroke-width="1.45" stroke-linejoin="round"/>
<ellipse cx="593.3" cy="355.3" rx="1.2" ry="2.5" transform="rotate(25 593.3 355.3)" fill="#fff" stroke="#000" stroke-width="1.05"/>
<ellipse cx="611.5" cy="400.4" rx="1.7" ry="1.5" transform="rotate(0 611.5 400.4)" fill="#fff" stroke="#000" stroke-width="1.05"/>
<ellipse cx="628.6" cy="425.5" rx="1.8" ry="1.8" transform="rotate(0 628.6 425.5)" fill="#fff" stroke="#000" stroke-width="1.05"/>
<ellipse cx="671.5" cy="423.7" rx="1.7" ry="3.8" transform="rotate(-25 671.5 423.7)" fill="#fff" stroke="#000" stroke-width="1.05"/>
<path d="M325.4 358.6L329.3 356.9L332.6 357.4L331.4 359.7L328.3 361.4Z" fill="#222" stroke="#000" stroke-width="0.6"/>
<path d="M345.0 357.9L348.6 354.6L351.4 354.0L350.0 356.4L346.4 359.3Z" fill="#222" stroke="#000" stroke-width="0.6"/>
<path d="M320.0 355.4L325.7 355.4L325.7 356.6L320.0 356.6Z" fill="#222" stroke="#000" stroke-width="0.6"/>
<path d="M305.0 347.9L309.3 347.4L309.3 349.3L305.7 349.6Z" fill="#222" stroke="#000" stroke-width="0.6"/>
<path d="M348.2 203.3L343.6 203.9L339.6 205.2L336.8 207.1L334.7 209.7L336.3 211.3L338.8 210.9L341.2 211.7" fill="none" stroke="#000" stroke-width="2.2" stroke-linecap="round" stroke-linejoin="round"/>
<path d="M339.6 205.2L336.8 207.1L334.7 209.7L336.3 211.3" fill="none" stroke="#0000c8" stroke-width="0.8"/>
<path d="M533.7 578.4L538.4 580.1L536.3 582.6L534.9 581.4Z" fill="#0000d0" stroke="#000" stroke-width="0.8"/>
<path d="M525.5 638.6L530.2 638.6L528.0 641.5L525.9 641.5Z" fill="#0000d0" stroke="#000" stroke-width="0.8"/>
<path d="M691.9 414.2L693.6 411.9L695.3 414.5L693.6 415.9Z" fill="#0000d0" stroke="#000" stroke-width="0.8"/>
<path d="M241 319.2H244.6" stroke="#000" stroke-width="1.3" fill="none"/>
<circle cx="747.2" cy="400.3" r="5.2" fill="#0000ff" stroke="#00006a" stroke-width="0.9"/>
<path d="M277.5 158.50V652.39M314.5 158.50V652.39M350.5 158.50V652.39M387.5 158.50V652.39M423.5 158.50V652.39M460.5 158.50V652.39M496.5 158.50V652.39M533.5 158.50V652.39M569.5 158.50V652.39M606.5 158.50V652.39M642.5 158.50V652.39M679.5 158.50V652.39M715.5 158.50V652.39M241.3 604.5H752.0M241.3 556.5H752.0M241.3 507.5H752.0M241.3 458.5H752.0M241.3 409.5H752.0M241.3 359.5H752.0M241.3 309.5H752.0M241.3 259.5H752.0M241.3 208.5H752.0" stroke="#000" stroke-width="1" stroke-dasharray="2.08 2.08" fill="none" opacity="0.6"/>
<path d="M360.1 181.0h1.7v1.7h-1.7z" fill="#8000ff"/>
<path d="M371.0 229.3h1.7v1.7h-1.7zM374.9 222.1h1.7v1.7h-1.7z" fill="#24d7df"/>
<path d="M373.3 220.0h1.7v1.7h-1.7zM365.8 223.0h1.7v1.7h-1.7zM374.0 227.6h1.7v1.7h-1.7z" fill="#4df3ce"/>
<path d="M369.1 227.9h1.7v1.7h-1.7zM378.7 230.8h1.7v1.7h-1.7zM374.8 228.3h1.7v1.7h-1.7z" fill="#8afeaf"/>
<path d="M372.1 219.2h1.7v1.7h-1.7zM380.6 231.2h1.7v1.7h-1.7z" fill="#9efaa3"/>
<path d="M298.5 211.7h1.7v1.7h-1.7z" fill="#ffaf5e"/>
<path d="M299.1 213.5h1.7v1.7h-1.7zM296.4 212.0h1.7v1.7h-1.7zM384.9 242.2h1.7v1.7h-1.7z" fill="#ff964f"/>
<path d="M372.9 230.6h1.7v1.7h-1.7zM372.1 236.7h1.7v1.7h-1.7zM305.2 216.1h1.7v1.7h-1.7z" fill="#ff7b3f"/>
<path d="M375.2 225.7h1.7v1.7h-1.7zM361.4 178.5h1.7v1.7h-1.7zM373.4 228.6h1.7v1.7h-1.7zM373.2 229.0h1.7v1.7h-1.7zM373.6 226.0h1.7v1.7h-1.7zM369.7 230.2h1.7v1.7h-1.7zM374.0 219.5h1.7v1.7h-1.7zM373.5 226.3h1.7v1.7h-1.7zM378.7 226.7h1.7v1.7h-1.7zM373.8 226.7h1.7v1.7h-1.7zM373.7 226.8h1.7v1.7h-1.7zM374.1 226.8h1.7v1.7h-1.7zM361.8 178.4h1.7v1.7h-1.7zM373.7 227.2h1.7v1.7h-1.7zM300.2 213.8h1.7v1.7h-1.7zM303.6 215.6h1.7v1.7h-1.7zM361.7 178.3h1.7v1.7h-1.7zM369.2 225.0h1.7v1.7h-1.7zM373.9 227.1h1.7v1.7h-1.7zM373.0 226.4h1.7v1.7h-1.7zM376.6 227.5h1.7v1.7h-1.7zM370.8 223.2h1.7v1.7h-1.7zM373.5 228.8h1.7v1.7h-1.7zM359.5 177.1h1.7v1.7h-1.7zM299.4 214.7h1.7v1.7h-1.7zM376.7 227.7h1.7v1.7h-1.7zM372.5 227.4h1.7v1.7h-1.7zM299.2 212.8h1.7v1.7h-1.7zM372.3 225.8h1.7v1.7h-1.7zM370.0 227.2h1.7v1.7h-1.7zM373.0 226.0h1.7v1.7h-1.7zM373.6 226.1h1.7v1.7h-1.7zM376.1 233.4h1.7v1.7h-1.7zM374.5 224.5h1.7v1.7h-1.7zM370.5 230.1h1.7v1.7h-1.7zM375.3 227.4h1.7v1.7h-1.7zM374.5 226.8h1.7v1.7h-1.7zM360.8 179.7h1.7v1.7h-1.7z" fill="#ff5e30"/>
<path d="M374.1 229.2h1.7v1.7h-1.7zM370.5 227.3h1.7v1.7h-1.7zM371.1 227.6h1.7v1.7h-1.7zM376.2 222.9h1.7v1.7h-1.7zM380.4 230.9h1.7v1.7h-1.7zM303.7 214.9h1.7v1.7h-1.7zM376.4 226.9h1.7v1.7h-1.7zM363.1 177.4h1.7v1.7h-1.7zM373.3 227.1h1.7v1.7h-1.7zM371.4 225.8h1.7v1.7h-1.7zM376.5 225.2h1.7v1.7h-1.7zM375.4 227.9h1.7v1.7h-1.7zM371.3 229.7h1.7v1.7h-1.7zM372.6 226.4h1.7v1.7h-1.7zM372.1 228.5h1.7v1.7h-1.7zM373.6 227.1h1.7v1.7h-1.7zM372.2 225.9h1.7v1.7h-1.7zM368.1 227.7h1.7v1.7h-1.7zM373.2 227.4h1.7v1.7h-1.7z" fill="#ff3f20"/>
<path d="M382.1 227.3h1.7v1.7h-1.7z" fill="#8000ff"/>
<path d="M356.1 169.8h1.7v1.7h-1.7zM374.3 227.0h1.7v1.7h-1.7z" fill="#6b20fe"/>
<path d="M367.8 233.6h1.7v1.7h-1.7z" fill="#1996f3"/>
<path d="M378.3 230.2h1.7v1.7h-1.7z" fill="#24d7df"/>
<path d="M366.9 220.2h1.7v1.7h-1.7zM378.6 233.2h1.7v1.7h-1.7z" fill="#4df3ce"/>
<path d="M373.4 228.0h1.7v1.7h-1.7zM369.2 220.7h1.7v1.7h-1.7zM371.8 224.3h1.7v1.7h-1.7zM376.0 231.1h1.7v1.7h-1.7zM376.5 222.8h1.7v1.7h-1.7z" fill="#9efaa3"/>
<path d="M372.8 227.7h1.7v1.7h-1.7z" fill="#b2f396"/>
<path d="M368.1 226.3h1.7v1.7h-1.7zM297.9 212.7h1.7v1.7h-1.7zM375.9 222.2h1.7v1.7h-1.7z" fill="#ffaf5e"/>
<path d="M298.9 214.2h1.7v1.7h-1.7zM374.0 227.7h1.7v1.7h-1.7zM380.1 225.1h1.7v1.7h-1.7zM374.5 224.8h1.7v1.7h-1.7zM374.0 229.0h1.7v1.7h-1.7zM373.1 220.5h1.7v1.7h-1.7z" fill="#ff964f"/>
<path d="M301.5 214.7h1.7v1.7h-1.7z" fill="#ff7b3f"/>
<path d="M370.9 233.6h1.7v1.7h-1.7zM361.9 174.6h1.7v1.7h-1.7zM371.5 222.8h1.7v1.7h-1.7zM370.0 230.1h1.7v1.7h-1.7zM370.3 227.7h1.7v1.7h-1.7zM372.8 223.8h1.7v1.7h-1.7zM360.8 175.7h1.7v1.7h-1.7zM372.5 228.2h1.7v1.7h-1.7zM361.2 177.1h1.7v1.7h-1.7zM371.3 230.6h1.7v1.7h-1.7zM374.3 226.4h1.7v1.7h-1.7zM363.9 181.2h1.7v1.7h-1.7zM373.9 227.9h1.7v1.7h-1.7zM373.4 227.2h1.7v1.7h-1.7zM370.8 224.5h1.7v1.7h-1.7zM372.8 226.4h1.7v1.7h-1.7zM373.3 224.8h1.7v1.7h-1.7zM382.2 225.5h1.7v1.7h-1.7zM369.6 226.3h1.7v1.7h-1.7zM373.4 227.0h1.7v1.7h-1.7zM374.1 227.6h1.7v1.7h-1.7zM374.0 226.1h1.7v1.7h-1.7zM372.4 226.6h1.7v1.7h-1.7zM373.8 227.1h1.7v1.7h-1.7zM376.3 224.2h1.7v1.7h-1.7zM377.4 229.7h1.7v1.7h-1.7zM373.5 228.5h1.7v1.7h-1.7zM367.4 229.2h1.7v1.7h-1.7zM372.5 228.0h1.7v1.7h-1.7zM369.6 226.8h1.7v1.7h-1.7zM375.9 229.3h1.7v1.7h-1.7zM375.8 226.8h1.7v1.7h-1.7zM358.2 173.6h1.7v1.7h-1.7zM372.9 224.8h1.7v1.7h-1.7zM374.4 226.9h1.7v1.7h-1.7zM374.8 226.9h1.7v1.7h-1.7zM373.0 228.0h1.7v1.7h-1.7zM303.5 215.1h1.7v1.7h-1.7zM383.9 228.5h1.7v1.7h-1.7zM375.5 226.8h1.7v1.7h-1.7z" fill="#ff5e30"/>
<path d="M359.1 178.8h1.7v1.7h-1.7zM306.5 216.8h1.7v1.7h-1.7zM369.5 227.4h1.7v1.7h-1.7zM360.2 173.5h1.7v1.7h-1.7zM369.9 228.8h1.7v1.7h-1.7zM369.8 228.0h1.7v1.7h-1.7zM297.2 212.7h1.7v1.7h-1.7zM360.9 178.3h1.7v1.7h-1.7zM374.7 224.4h1.7v1.7h-1.7zM373.6 227.1h1.7v1.7h-1.7zM373.8 228.8h1.7v1.7h-1.7zM362.8 176.5h1.7v1.7h-1.7zM370.3 225.5h1.7v1.7h-1.7z" fill="#ff3f20"/>
<path d="M376.1 221.0h1.7v1.7h-1.7zM374.6 221.6h1.7v1.7h-1.7z" fill="#8000ff"/>
<path d="M376.2 226.0h1.7v1.7h-1.7zM375.6 235.7h1.7v1.7h-1.7z" fill="#6b20fe"/>
<path d="M371.0 225.6h1.7v1.7h-1.7z" fill="#573ffd"/>
<path d="M359.4 174.2h1.7v1.7h-1.7z" fill="#05afed"/>
<path d="M366.0 227.6h1.7v1.7h-1.7z" fill="#24d7df"/>
<path d="M369.6 220.7h1.7v1.7h-1.7z" fill="#38e7d7"/>
<path d="M369.1 230.2h1.7v1.7h-1.7zM368.7 230.5h1.7v1.7h-1.7z" fill="#4df3ce"/>
<path d="M378.9 230.3h1.7v1.7h-1.7zM378.5 233.1h1.7v1.7h-1.7z" fill="#8afeaf"/>
<path d="M370.0 227.8h1.7v1.7h-1.7z" fill="#9efaa3"/>
<path d="M367.8 229.5h1.7v1.7h-1.7zM373.7 221.9h1.7v1.7h-1.7zM376.1 229.3h1.7v1.7h-1.7zM370.4 228.6h1.7v1.7h-1.7zM372.3 228.0h1.7v1.7h-1.7z" fill="#c7e789"/>
<path d="M375.9 224.4h1.7v1.7h-1.7z" fill="#ffaf5e"/>
<path d="M300.9 213.8h1.7v1.7h-1.7zM369.6 227.3h1.7v1.7h-1.7zM373.3 226.2h1.7v1.7h-1.7z" fill="#ff964f"/>
<path d="M371.1 227.3h1.7v1.7h-1.7zM370.1 235.2h1.7v1.7h-1.7zM375.2 229.0h1.7v1.7h-1.7z" fill="#ff7b3f"/>
<path d="M373.7 223.8h1.7v1.7h-1.7zM298.1 212.2h1.7v1.7h-1.7zM360.1 178.8h1.7v1.7h-1.7zM373.4 227.0h1.7v1.7h-1.7zM305.0 216.9h1.7v1.7h-1.7zM374.1 227.3h1.7v1.7h-1.7zM373.5 226.8h1.7v1.7h-1.7zM374.1 223.5h1.7v1.7h-1.7zM362.8 175.9h1.7v1.7h-1.7zM374.3 230.4h1.7v1.7h-1.7zM373.1 226.9h1.7v1.7h-1.7zM359.0 179.1h1.7v1.7h-1.7zM373.2 228.9h1.7v1.7h-1.7zM373.9 226.5h1.7v1.7h-1.7zM362.3 175.7h1.7v1.7h-1.7zM370.8 226.1h1.7v1.7h-1.7zM297.9 213.2h1.7v1.7h-1.7zM359.8 178.4h1.7v1.7h-1.7zM306.3 215.7h1.7v1.7h-1.7zM361.6 180.8h1.7v1.7h-1.7zM361.8 178.1h1.7v1.7h-1.7zM373.5 228.2h1.7v1.7h-1.7zM373.5 223.7h1.7v1.7h-1.7zM373.7 229.6h1.7v1.7h-1.7zM306.1 215.9h1.7v1.7h-1.7zM376.4 224.9h1.7v1.7h-1.7zM371.2 228.3h1.7v1.7h-1.7zM372.7 226.5h1.7v1.7h-1.7zM374.0 226.5h1.7v1.7h-1.7zM373.4 227.1h1.7v1.7h-1.7zM372.7 226.4h1.7v1.7h-1.7zM374.2 225.7h1.7v1.7h-1.7zM373.6 225.7h1.7v1.7h-1.7z" fill="#ff5e30"/>
<path d="M375.9 224.1h1.7v1.7h-1.7zM377.3 226.5h1.7v1.7h-1.7zM361.2 175.8h1.7v1.7h-1.7zM370.4 226.3h1.7v1.7h-1.7zM372.5 229.0h1.7v1.7h-1.7zM376.1 227.9h1.7v1.7h-1.7zM374.3 227.4h1.7v1.7h-1.7zM378.0 229.3h1.7v1.7h-1.7zM373.3 227.6h1.7v1.7h-1.7zM369.1 227.9h1.7v1.7h-1.7zM379.5 224.7h1.7v1.7h-1.7zM372.4 224.3h1.7v1.7h-1.7zM369.7 226.7h1.7v1.7h-1.7zM360.8 178.1h1.7v1.7h-1.7zM373.9 227.2h1.7v1.7h-1.7zM374.3 227.9h1.7v1.7h-1.7zM360.8 180.4h1.7v1.7h-1.7z" fill="#ff3f20"/>
<path d="M379.1 220.2h1.7v1.7h-1.7z" fill="#425efa"/>
<path d="M361.1 174.8h1.7v1.7h-1.7zM387.3 211.2h1.7v1.7h-1.7z" fill="#2e7bf7"/>
<path d="M372.9 228.5h1.7v1.7h-1.7zM377.1 218.7h1.7v1.7h-1.7z" fill="#38e7d7"/>
<path d="M374.8 233.8h1.7v1.7h-1.7zM374.1 237.7h1.7v1.7h-1.7z" fill="#8afeaf"/>
<path d="M376.1 238.2h1.7v1.7h-1.7z" fill="#9efaa3"/>
<path d="M379.4 231.1h1.7v1.7h-1.7zM369.9 227.1h1.7v1.7h-1.7zM373.8 227.1h1.7v1.7h-1.7z" fill="#b2f396"/>
<path d="M375.1 218.2h1.7v1.7h-1.7z" fill="#c7e789"/>
<path d="M371.0 231.0h1.7v1.7h-1.7zM368.6 232.2h1.7v1.7h-1.7zM377.9 224.5h1.7v1.7h-1.7z" fill="#ffaf5e"/>
<path d="M304.9 215.3h1.7v1.7h-1.7zM372.3 226.7h1.7v1.7h-1.7zM369.5 225.8h1.7v1.7h-1.7zM374.1 227.9h1.7v1.7h-1.7zM375.0 231.2h1.7v1.7h-1.7zM375.4 226.8h1.7v1.7h-1.7zM368.9 228.1h1.7v1.7h-1.7zM370.9 226.9h1.7v1.7h-1.7zM379.2 224.9h1.7v1.7h-1.7zM373.5 227.3h1.7v1.7h-1.7zM379.2 226.4h1.7v1.7h-1.7z" fill="#ff964f"/>
<path d="M376.2 233.4h1.7v1.7h-1.7zM374.3 228.2h1.7v1.7h-1.7z" fill="#ff7b3f"/>
<path d="M372.3 227.0h1.7v1.7h-1.7zM376.9 224.5h1.7v1.7h-1.7zM373.8 226.8h1.7v1.7h-1.7zM377.5 227.0h1.7v1.7h-1.7zM373.2 227.7h1.7v1.7h-1.7zM373.5 227.0h1.7v1.7h-1.7zM371.2 225.2h1.7v1.7h-1.7zM373.7 226.8h1.7v1.7h-1.7zM376.0 227.0h1.7v1.7h-1.7zM362.9 176.2h1.7v1.7h-1.7zM361.3 175.9h1.7v1.7h-1.7zM373.7 226.0h1.7v1.7h-1.7zM375.4 225.4h1.7v1.7h-1.7zM374.3 226.3h1.7v1.7h-1.7zM377.0 224.9h1.7v1.7h-1.7zM371.4 229.4h1.7v1.7h-1.7zM376.3 229.4h1.7v1.7h-1.7zM373.6 226.8h1.7v1.7h-1.7zM371.5 226.0h1.7v1.7h-1.7zM375.7 228.0h1.7v1.7h-1.7zM305.2 216.2h1.7v1.7h-1.7zM304.4 215.2h1.7v1.7h-1.7zM381.1 224.9h1.7v1.7h-1.7zM375.9 227.4h1.7v1.7h-1.7zM373.4 227.2h1.7v1.7h-1.7zM370.8 229.4h1.7v1.7h-1.7zM369.3 223.4h1.7v1.7h-1.7z" fill="#ff5e30"/>
<path d="M382.1 224.7h1.7v1.7h-1.7zM374.1 226.8h1.7v1.7h-1.7zM378.2 224.2h1.7v1.7h-1.7zM356.3 170.3h1.7v1.7h-1.7zM374.0 224.0h1.7v1.7h-1.7zM374.6 224.3h1.7v1.7h-1.7zM375.8 224.3h1.7v1.7h-1.7zM371.1 224.1h1.7v1.7h-1.7zM376.6 225.7h1.7v1.7h-1.7zM376.6 229.6h1.7v1.7h-1.7zM372.1 222.7h1.7v1.7h-1.7zM375.0 227.3h1.7v1.7h-1.7zM372.7 227.3h1.7v1.7h-1.7zM370.2 226.1h1.7v1.7h-1.7zM376.5 227.1h1.7v1.7h-1.7zM299.6 213.2h1.7v1.7h-1.7zM374.5 230.0h1.7v1.7h-1.7zM372.9 226.6h1.7v1.7h-1.7zM373.4 223.9h1.7v1.7h-1.7zM374.9 226.7h1.7v1.7h-1.7zM374.3 224.9h1.7v1.7h-1.7z" fill="#ff3f20"/><path d="M559.3 355.6L560.5 358.8L564.0 359.0L561.2 361.1L562.2 364.5L559.3 362.6L556.4 364.5L557.4 361.1L554.6 359.0L558.1 358.8ZM512.4 397.6L513.6 400.8L517.1 401.0L514.3 403.1L515.3 406.5L512.4 404.6L509.5 406.5L510.5 403.1L507.7 401.0L511.2 400.8ZM534.7 400.7L535.9 403.9L539.4 404.1L536.6 406.2L537.6 409.6L534.7 407.7L531.8 409.6L532.8 406.2L530.0 404.1L533.5 403.9ZM568.7 395.9L569.9 399.1L573.4 399.3L570.6 401.4L571.6 404.8L568.7 402.9L565.8 404.8L566.8 401.4L564.0 399.3L567.5 399.1ZM557.7 410.5L558.9 413.7L562.4 413.9L559.6 416.0L560.6 419.4L557.7 417.4L554.8 419.4L555.8 416.0L553.0 413.9L556.5 413.7ZM540.4 422.0L541.6 425.2L545.1 425.4L542.3 427.5L543.3 430.9L540.4 428.9L537.5 430.9L538.5 427.5L535.7 425.4L539.2 425.2ZM508.4 431.6L509.6 434.8L513.1 435.0L510.3 437.1L511.3 440.5L508.4 438.6L505.5 440.5L506.5 437.1L503.7 435.0L507.2 434.8ZM573.5 442.8L574.7 446.0L578.2 446.2L575.4 448.3L576.4 451.7L573.5 449.8L570.6 451.7L571.6 448.3L568.8 446.2L572.3 446.0ZM537.5 450.5L538.7 453.7L542.2 453.9L539.4 456.0L540.4 459.4L537.5 457.4L534.6 459.4L535.6 456.0L532.8 453.9L536.3 453.7ZM510.5 453.7L511.7 456.9L515.2 457.1L512.4 459.2L513.4 462.6L510.5 460.7L507.6 462.6L508.6 459.2L505.8 457.1L509.3 456.9ZM546.3 468.4L547.5 471.6L551.0 471.8L548.2 473.9L549.2 477.3L546.3 475.4L543.4 477.3L544.4 473.9L541.6 471.8L545.1 471.6ZM546.3 515.6L547.5 518.8L551.0 519.0L548.2 521.1L549.2 524.5L546.3 522.5L543.4 524.5L544.4 521.1L541.6 519.0L545.1 518.8Z" fill="#ffff00" stroke="#008000" stroke-width="1.05" stroke-linejoin="miter" stroke-miterlimit="4"/>
</g>
<g id="top">
<path d="M243 87.5H751M243 122.5H751" stroke="#585858" stroke-width="1" fill="none"/>
<g clip-path="url(#topclip)"><path d="M381.1 79.2h2.0v2.0h-2.0zM376.8 106.0h2.0v2.0h-2.0z" fill="#6b20fe"/>
<path d="M356.0 73.3h2.0v2.0h-2.0zM360.2 87.7h2.0v2.0h-2.0z" fill="#425efa"/>
<path d="M357.5 84.1h2.0v2.0h-2.0z" fill="#1996f3"/>
<path d="M370.2 63.0h2.0v2.0h-2.0zM377.2 82.4h2.0v2.0h-2.0z" fill="#05afed"/>
<path d="M376.8 56.8h2.0v2.0h-2.0zM368.8 93.3h2.0v2.0h-2.0z" fill="#4df3ce"/>
<path d="M375.6 73.5h2.0v2.0h-2.0zM374.8 90.8h2.0v2.0h-2.0zM372.8 104.8h2.0v2.0h-2.0zM374.6 108.0h2.0v2.0h-2.0z" fill="#8afeaf"/>
<path d="M375.9 84.7h2.0v2.0h-2.0z" fill="#9efaa3"/>
<path d="M357.8 88.4h2.0v2.0h-2.0zM376.3 80.3h2.0v2.0h-2.0z" fill="#b2f396"/>
<path d="M371.2 90.3h2.0v2.0h-2.0zM375.7 85.4h2.0v2.0h-2.0zM373.4 85.5h2.0v2.0h-2.0zM379.0 99.3h2.0v2.0h-2.0z" fill="#c7e789"/>
<path d="M373.7 82.3h2.0v2.0h-2.0zM378.5 66.4h2.0v2.0h-2.0zM373.0 79.5h2.0v2.0h-2.0z" fill="#ffaf5e"/>
<path d="M376.1 85.3h2.0v2.0h-2.0zM378.0 104.6h2.0v2.0h-2.0zM376.3 89.3h2.0v2.0h-2.0zM376.1 68.0h2.0v2.0h-2.0zM375.8 80.9h2.0v2.0h-2.0z" fill="#ff964f"/>
<path d="M378.2 82.5h2.0v2.0h-2.0zM374.0 92.6h2.0v2.0h-2.0zM303.4 89.0h2.0v2.0h-2.0zM375.8 87.2h2.0v2.0h-2.0zM374.1 82.4h2.0v2.0h-2.0z" fill="#ff7b3f"/>
<path d="M374.8 71.3h2.0v2.0h-2.0zM380.6 76.6h2.0v2.0h-2.0zM376.1 87.3h2.0v2.0h-2.0zM375.4 86.7h2.0v2.0h-2.0zM379.4 93.7h2.0v2.0h-2.0zM369.8 76.3h2.0v2.0h-2.0zM302.1 69.6h2.0v2.0h-2.0zM302.1 83.9h2.0v2.0h-2.0zM375.2 80.2h2.0v2.0h-2.0zM377.5 75.6h2.0v2.0h-2.0zM370.8 75.7h2.0v2.0h-2.0zM301.1 78.1h2.0v2.0h-2.0zM301.1 82.9h2.0v2.0h-2.0zM370.6 76.1h2.0v2.0h-2.0zM377.7 91.1h2.0v2.0h-2.0zM303.4 85.0h2.0v2.0h-2.0zM360.7 78.5h2.0v2.0h-2.0zM376.1 97.0h2.0v2.0h-2.0zM300.7 78.9h2.0v2.0h-2.0zM379.4 67.7h2.0v2.0h-2.0zM375.3 77.7h2.0v2.0h-2.0zM370.0 77.8h2.0v2.0h-2.0zM378.8 87.8h2.0v2.0h-2.0zM380.9 85.0h2.0v2.0h-2.0zM378.3 78.5h2.0v2.0h-2.0zM301.7 87.9h2.0v2.0h-2.0zM368.6 76.5h2.0v2.0h-2.0zM360.4 78.9h2.0v2.0h-2.0zM376.0 93.3h2.0v2.0h-2.0zM375.8 81.3h2.0v2.0h-2.0zM300.9 74.4h2.0v2.0h-2.0zM376.3 79.1h2.0v2.0h-2.0zM379.3 80.0h2.0v2.0h-2.0zM374.3 78.7h2.0v2.0h-2.0zM362.2 82.4h2.0v2.0h-2.0zM374.2 89.7h2.0v2.0h-2.0z" fill="#ff5e30"/>
<path d="M369.0 70.8h2.0v2.0h-2.0zM367.0 78.6h2.0v2.0h-2.0zM376.0 86.7h2.0v2.0h-2.0zM370.8 73.2h2.0v2.0h-2.0zM373.6 79.0h2.0v2.0h-2.0zM375.5 81.7h2.0v2.0h-2.0zM376.9 86.7h2.0v2.0h-2.0zM377.8 86.2h2.0v2.0h-2.0zM377.6 86.4h2.0v2.0h-2.0zM377.1 95.4h2.0v2.0h-2.0zM371.6 80.6h2.0v2.0h-2.0zM374.4 65.6h2.0v2.0h-2.0zM376.6 73.3h2.0v2.0h-2.0zM376.9 80.6h2.0v2.0h-2.0zM377.7 81.1h2.0v2.0h-2.0zM372.3 84.8h2.0v2.0h-2.0z" fill="#ff3f20"/>
<path d="M370.3 109.7h2.0v2.0h-2.0zM376.3 75.2h2.0v2.0h-2.0z" fill="#8000ff"/>
<path d="M378.5 103.7h2.0v2.0h-2.0zM376.4 95.3h2.0v2.0h-2.0zM376.5 82.0h2.0v2.0h-2.0z" fill="#6b20fe"/>
<path d="M379.6 80.1h2.0v2.0h-2.0z" fill="#573ffd"/>
<path d="M377.2 72.0h2.0v2.0h-2.0z" fill="#425efa"/>
<path d="M379.2 80.2h2.0v2.0h-2.0zM377.6 77.4h2.0v2.0h-2.0z" fill="#2e7bf7"/>
<path d="M375.5 83.3h2.0v2.0h-2.0zM375.4 57.8h2.0v2.0h-2.0z" fill="#1996f3"/>
<path d="M357.7 88.3h2.0v2.0h-2.0zM361.6 92.2h2.0v2.0h-2.0z" fill="#24d7df"/>
<path d="M372.5 57.3h2.0v2.0h-2.0zM356.5 72.5h2.0v2.0h-2.0z" fill="#38e7d7"/>
<path d="M377.0 88.2h2.0v2.0h-2.0zM375.8 81.1h2.0v2.0h-2.0zM377.3 77.3h2.0v2.0h-2.0z" fill="#8afeaf"/>
<path d="M377.5 84.9h2.0v2.0h-2.0zM374.5 93.5h2.0v2.0h-2.0zM377.8 96.5h2.0v2.0h-2.0z" fill="#9efaa3"/>
<path d="M375.1 78.7h2.0v2.0h-2.0zM376.0 85.3h2.0v2.0h-2.0z" fill="#b2f396"/>
<path d="M374.3 71.7h2.0v2.0h-2.0zM375.0 80.3h2.0v2.0h-2.0z" fill="#c7e789"/>
<path d="M376.3 70.5h2.0v2.0h-2.0zM374.9 62.6h2.0v2.0h-2.0zM376.1 71.5h2.0v2.0h-2.0zM376.3 78.6h2.0v2.0h-2.0z" fill="#ffaf5e"/>
<path d="M377.6 78.9h2.0v2.0h-2.0zM376.7 80.4h2.0v2.0h-2.0zM373.7 72.3h2.0v2.0h-2.0zM377.5 71.2h2.0v2.0h-2.0zM374.9 72.3h2.0v2.0h-2.0zM376.5 88.6h2.0v2.0h-2.0z" fill="#ff964f"/>
<path d="M376.5 91.7h2.0v2.0h-2.0zM380.1 91.6h2.0v2.0h-2.0zM378.1 87.6h2.0v2.0h-2.0zM374.2 65.1h2.0v2.0h-2.0zM381.3 89.3h2.0v2.0h-2.0zM377.3 80.4h2.0v2.0h-2.0z" fill="#ff7b3f"/>
<path d="M301.1 73.6h2.0v2.0h-2.0zM378.8 81.7h2.0v2.0h-2.0zM369.7 72.1h2.0v2.0h-2.0zM375.2 83.6h2.0v2.0h-2.0zM377.5 75.5h2.0v2.0h-2.0zM302.5 88.7h2.0v2.0h-2.0zM370.1 72.5h2.0v2.0h-2.0zM378.4 84.1h2.0v2.0h-2.0zM373.9 79.9h2.0v2.0h-2.0zM361.9 81.0h2.0v2.0h-2.0zM370.9 79.6h2.0v2.0h-2.0zM375.4 83.5h2.0v2.0h-2.0zM377.1 82.3h2.0v2.0h-2.0zM301.4 69.0h2.0v2.0h-2.0zM374.5 85.0h2.0v2.0h-2.0zM376.0 63.0h2.0v2.0h-2.0zM372.3 78.1h2.0v2.0h-2.0zM377.0 72.4h2.0v2.0h-2.0zM370.0 86.8h2.0v2.0h-2.0zM381.2 81.8h2.0v2.0h-2.0zM360.9 73.0h2.0v2.0h-2.0zM370.7 79.0h2.0v2.0h-2.0zM358.9 73.9h2.0v2.0h-2.0zM372.1 74.2h2.0v2.0h-2.0zM370.2 76.2h2.0v2.0h-2.0zM373.5 86.8h2.0v2.0h-2.0zM300.0 63.6h2.0v2.0h-2.0zM368.9 78.8h2.0v2.0h-2.0zM301.4 70.1h2.0v2.0h-2.0zM368.6 73.4h2.0v2.0h-2.0zM375.2 75.1h2.0v2.0h-2.0zM300.9 64.1h2.0v2.0h-2.0z" fill="#ff5e30"/>
<path d="M377.2 86.3h2.0v2.0h-2.0zM376.2 92.1h2.0v2.0h-2.0zM375.5 74.3h2.0v2.0h-2.0zM377.4 80.8h2.0v2.0h-2.0zM374.4 93.7h2.0v2.0h-2.0zM307.1 86.1h2.0v2.0h-2.0zM302.9 77.3h2.0v2.0h-2.0zM373.7 70.8h2.0v2.0h-2.0zM376.8 74.6h2.0v2.0h-2.0zM369.7 66.2h2.0v2.0h-2.0zM371.3 71.8h2.0v2.0h-2.0zM360.8 78.2h2.0v2.0h-2.0zM376.0 89.4h2.0v2.0h-2.0z" fill="#ff3f20"/>
<path d="M377.4 75.2h2.0v2.0h-2.0zM374.1 104.3h2.0v2.0h-2.0z" fill="#8000ff"/>
<path d="M377.1 85.0h2.0v2.0h-2.0z" fill="#6b20fe"/>
<path d="M376.9 80.4h2.0v2.0h-2.0z" fill="#425efa"/>
<path d="M371.3 98.7h2.0v2.0h-2.0z" fill="#1996f3"/>
<path d="M373.9 95.1h2.0v2.0h-2.0z" fill="#05afed"/>
<path d="M375.6 92.8h2.0v2.0h-2.0z" fill="#38e7d7"/>
<path d="M381.0 70.1h2.0v2.0h-2.0zM376.9 60.9h2.0v2.0h-2.0z" fill="#4df3ce"/>
<path d="M356.9 94.9h2.0v2.0h-2.0zM375.4 86.4h2.0v2.0h-2.0z" fill="#8afeaf"/>
<path d="M375.5 88.4h2.0v2.0h-2.0zM374.9 75.2h2.0v2.0h-2.0zM375.5 78.8h2.0v2.0h-2.0z" fill="#9efaa3"/>
<path d="M374.9 75.7h2.0v2.0h-2.0zM376.4 64.9h2.0v2.0h-2.0zM378.2 85.5h2.0v2.0h-2.0zM376.2 74.8h2.0v2.0h-2.0z" fill="#b2f396"/>
<path d="M375.6 61.5h2.0v2.0h-2.0zM379.0 65.9h2.0v2.0h-2.0zM376.5 99.3h2.0v2.0h-2.0zM376.5 90.4h2.0v2.0h-2.0z" fill="#c7e789"/>
<path d="M374.7 81.4h2.0v2.0h-2.0zM376.6 75.8h2.0v2.0h-2.0zM380.8 75.2h2.0v2.0h-2.0zM380.3 85.8h2.0v2.0h-2.0zM377.8 72.5h2.0v2.0h-2.0z" fill="#ffaf5e"/>
<path d="M374.2 53.5h2.0v2.0h-2.0zM375.9 80.7h2.0v2.0h-2.0zM376.5 85.7h2.0v2.0h-2.0zM376.4 72.7h2.0v2.0h-2.0zM375.3 69.8h2.0v2.0h-2.0z" fill="#ff964f"/>
<path d="M376.2 84.9h2.0v2.0h-2.0zM377.5 85.2h2.0v2.0h-2.0zM377.0 75.3h2.0v2.0h-2.0zM373.5 81.0h2.0v2.0h-2.0z" fill="#ff7b3f"/>
<path d="M374.3 81.0h2.0v2.0h-2.0zM376.0 80.0h2.0v2.0h-2.0zM370.3 70.0h2.0v2.0h-2.0zM360.6 95.8h2.0v2.0h-2.0zM358.7 75.2h2.0v2.0h-2.0zM375.9 69.9h2.0v2.0h-2.0zM375.6 73.0h2.0v2.0h-2.0zM362.9 87.0h2.0v2.0h-2.0zM374.1 72.4h2.0v2.0h-2.0zM377.6 82.1h2.0v2.0h-2.0zM377.3 84.6h2.0v2.0h-2.0zM372.8 91.2h2.0v2.0h-2.0zM376.8 82.7h2.0v2.0h-2.0zM376.7 79.7h2.0v2.0h-2.0zM375.0 76.6h2.0v2.0h-2.0zM376.3 92.3h2.0v2.0h-2.0zM368.4 73.6h2.0v2.0h-2.0zM375.1 83.7h2.0v2.0h-2.0zM373.5 72.3h2.0v2.0h-2.0zM361.0 72.3h2.0v2.0h-2.0zM375.6 66.5h2.0v2.0h-2.0zM371.0 77.3h2.0v2.0h-2.0zM377.0 81.1h2.0v2.0h-2.0zM377.8 89.6h2.0v2.0h-2.0zM375.2 78.6h2.0v2.0h-2.0zM376.6 80.1h2.0v2.0h-2.0zM376.2 82.8h2.0v2.0h-2.0zM379.2 88.3h2.0v2.0h-2.0zM304.0 73.6h2.0v2.0h-2.0zM376.8 74.1h2.0v2.0h-2.0zM375.3 84.9h2.0v2.0h-2.0zM376.8 81.3h2.0v2.0h-2.0zM359.9 74.8h2.0v2.0h-2.0zM373.7 77.8h2.0v2.0h-2.0zM376.1 73.3h2.0v2.0h-2.0zM358.9 83.1h2.0v2.0h-2.0zM374.9 80.5h2.0v2.0h-2.0zM376.2 61.9h2.0v2.0h-2.0zM373.6 75.7h2.0v2.0h-2.0z" fill="#ff5e30"/>
<path d="M379.3 87.5h2.0v2.0h-2.0zM369.7 78.3h2.0v2.0h-2.0zM375.1 83.6h2.0v2.0h-2.0zM376.0 82.7h2.0v2.0h-2.0zM368.3 75.4h2.0v2.0h-2.0zM376.7 76.0h2.0v2.0h-2.0zM360.9 90.2h2.0v2.0h-2.0zM374.4 91.0h2.0v2.0h-2.0zM378.1 80.4h2.0v2.0h-2.0zM376.2 75.5h2.0v2.0h-2.0z" fill="#ff3f20"/>
<path d="M359.8 93.5h2.0v2.0h-2.0zM378.6 70.6h2.0v2.0h-2.0z" fill="#8000ff"/>
<path d="M378.8 95.5h2.0v2.0h-2.0zM377.7 81.6h2.0v2.0h-2.0zM375.5 85.4h2.0v2.0h-2.0zM361.1 71.6h2.0v2.0h-2.0z" fill="#6b20fe"/>
<path d="M378.0 79.5h2.0v2.0h-2.0zM372.0 111.3h2.0v2.0h-2.0z" fill="#573ffd"/>
<path d="M359.3 73.6h2.0v2.0h-2.0zM376.3 72.7h2.0v2.0h-2.0zM387.1 93.8h2.0v2.0h-2.0z" fill="#425efa"/>
<path d="M376.4 78.2h2.0v2.0h-2.0zM360.0 71.6h2.0v2.0h-2.0z" fill="#2e7bf7"/>
<path d="M375.9 68.3h2.0v2.0h-2.0zM377.5 73.5h2.0v2.0h-2.0zM375.0 59.2h2.0v2.0h-2.0z" fill="#1996f3"/>
<path d="M361.1 72.6h2.0v2.0h-2.0z" fill="#38e7d7"/>
<path d="M361.4 93.1h2.0v2.0h-2.0zM375.4 78.5h2.0v2.0h-2.0z" fill="#4df3ce"/>
<path d="M376.7 76.0h2.0v2.0h-2.0zM376.4 53.8h2.0v2.0h-2.0zM362.2 70.2h2.0v2.0h-2.0z" fill="#8afeaf"/>
<path d="M373.4 68.0h2.0v2.0h-2.0z" fill="#9efaa3"/>
<path d="M370.0 55.5h2.0v2.0h-2.0zM374.2 80.0h2.0v2.0h-2.0z" fill="#b2f396"/>
<path d="M376.4 74.8h2.0v2.0h-2.0zM377.7 88.7h2.0v2.0h-2.0zM375.6 86.7h2.0v2.0h-2.0zM374.6 90.3h2.0v2.0h-2.0zM377.8 75.5h2.0v2.0h-2.0z" fill="#c7e789"/>
<path d="M376.3 70.5h2.0v2.0h-2.0zM302.3 82.1h2.0v2.0h-2.0zM296.8 52.4h2.0v2.0h-2.0zM375.0 88.6h2.0v2.0h-2.0zM375.4 91.0h2.0v2.0h-2.0z" fill="#ffaf5e"/>
<path d="M376.1 87.5h2.0v2.0h-2.0zM373.7 74.9h2.0v2.0h-2.0zM375.2 88.8h2.0v2.0h-2.0zM373.0 52.5h2.0v2.0h-2.0zM375.0 101.3h2.0v2.0h-2.0z" fill="#ff964f"/>
<path d="M375.0 83.8h2.0v2.0h-2.0zM378.3 76.3h2.0v2.0h-2.0zM373.0 86.4h2.0v2.0h-2.0zM377.8 81.4h2.0v2.0h-2.0zM384.6 62.7h2.0v2.0h-2.0zM300.0 84.4h2.0v2.0h-2.0z" fill="#ff7b3f"/>
<path d="M301.7 78.9h2.0v2.0h-2.0zM356.3 84.8h2.0v2.0h-2.0zM376.1 74.8h2.0v2.0h-2.0zM368.6 75.3h2.0v2.0h-2.0zM370.2 74.4h2.0v2.0h-2.0zM374.9 70.2h2.0v2.0h-2.0zM361.5 76.2h2.0v2.0h-2.0zM302.3 63.3h2.0v2.0h-2.0zM368.5 82.2h2.0v2.0h-2.0zM301.1 57.9h2.0v2.0h-2.0zM371.2 70.8h2.0v2.0h-2.0zM371.1 71.1h2.0v2.0h-2.0zM372.0 77.5h2.0v2.0h-2.0zM376.7 86.4h2.0v2.0h-2.0zM368.1 74.0h2.0v2.0h-2.0zM376.2 73.6h2.0v2.0h-2.0zM368.4 85.2h2.0v2.0h-2.0zM374.0 84.0h2.0v2.0h-2.0zM377.8 87.2h2.0v2.0h-2.0zM377.1 80.7h2.0v2.0h-2.0zM380.7 73.6h2.0v2.0h-2.0zM376.1 72.7h2.0v2.0h-2.0zM376.1 80.0h2.0v2.0h-2.0zM376.2 79.8h2.0v2.0h-2.0zM302.3 76.4h2.0v2.0h-2.0zM378.7 83.7h2.0v2.0h-2.0zM360.0 74.7h2.0v2.0h-2.0zM375.0 69.1h2.0v2.0h-2.0zM377.3 88.3h2.0v2.0h-2.0z" fill="#ff5e30"/>
<path d="M379.6 74.4h2.0v2.0h-2.0zM369.4 75.7h2.0v2.0h-2.0zM375.6 87.9h2.0v2.0h-2.0zM375.0 82.3h2.0v2.0h-2.0zM376.6 85.2h2.0v2.0h-2.0zM376.0 82.2h2.0v2.0h-2.0zM375.0 83.8h2.0v2.0h-2.0zM370.8 76.3h2.0v2.0h-2.0zM368.5 83.4h2.0v2.0h-2.0zM359.3 80.2h2.0v2.0h-2.0zM374.4 77.6h2.0v2.0h-2.0z" fill="#ff3f20"/></g>
</g>
<g id="right">
<path d="M789.5 159V652M825.5 159V652" stroke="#585858" stroke-width="1" fill="none"/>
<g clip-path="url(#rightclip)"><path d="M830.9 225.9h2.0v2.0h-2.0zM831.3 219.0h2.0v2.0h-2.0zM799.4 228.6h2.0v2.0h-2.0zM826.4 225.4h2.0v2.0h-2.0zM827.8 231.4h2.0v2.0h-2.0zM833.3 222.7h2.0v2.0h-2.0zM820.4 221.1h2.0v2.0h-2.0z" fill="#8000ff"/>
<path d="M811.2 231.0h2.0v2.0h-2.0zM803.0 220.8h2.0v2.0h-2.0z" fill="#6b20fe"/>
<path d="M832.8 177.0h2.0v2.0h-2.0z" fill="#573ffd"/>
<path d="M819.8 219.6h2.0v2.0h-2.0z" fill="#425efa"/>
<path d="M821.0 175.8h2.0v2.0h-2.0zM831.8 175.2h2.0v2.0h-2.0zM852.8 226.0h2.0v2.0h-2.0zM821.2 225.6h2.0v2.0h-2.0zM828.2 174.6h2.0v2.0h-2.0z" fill="#2e7bf7"/>
<path d="M836.0 175.0h2.0v2.0h-2.0z" fill="#1996f3"/>
<path d="M818.8 232.5h2.0v2.0h-2.0z" fill="#05afed"/>
<path d="M824.0 219.0h2.0v2.0h-2.0zM817.2 221.4h2.0v2.0h-2.0zM833.7 226.0h2.0v2.0h-2.0z" fill="#24d7df"/>
<path d="M829.2 223.3h2.0v2.0h-2.0z" fill="#38e7d7"/>
<path d="M846.8 219.6h2.0v2.0h-2.0zM827.0 227.3h2.0v2.0h-2.0z" fill="#4df3ce"/>
<path d="M823.6 220.0h2.0v2.0h-2.0z" fill="#8afeaf"/>
<path d="M828.8 226.9h2.0v2.0h-2.0zM812.3 227.3h2.0v2.0h-2.0zM833.5 221.8h2.0v2.0h-2.0zM823.0 222.3h2.0v2.0h-2.0z" fill="#9efaa3"/>
<path d="M820.3 220.4h2.0v2.0h-2.0zM823.0 228.0h2.0v2.0h-2.0zM834.8 229.3h2.0v2.0h-2.0zM810.8 221.4h2.0v2.0h-2.0z" fill="#b2f396"/>
<path d="M821.7 229.2h2.0v2.0h-2.0z" fill="#c7e789"/>
<path d="M831.9 231.7h2.0v2.0h-2.0zM849.0 242.0h2.0v2.0h-2.0z" fill="#ffaf5e"/>
<path d="M829.6 228.4h2.0v2.0h-2.0zM820.7 226.3h2.0v2.0h-2.0zM822.2 217.0h2.0v2.0h-2.0zM832.6 226.0h2.0v2.0h-2.0zM812.4 224.3h2.0v2.0h-2.0zM827.1 227.1h2.0v2.0h-2.0z" fill="#ff964f"/>
<path d="M820.5 224.8h2.0v2.0h-2.0z" fill="#ff7b3f"/>
<path d="M816.4 221.1h2.0v2.0h-2.0zM818.5 227.3h2.0v2.0h-2.0zM819.2 178.8h2.0v2.0h-2.0zM816.9 227.3h2.0v2.0h-2.0zM822.4 227.6h2.0v2.0h-2.0zM818.1 223.5h2.0v2.0h-2.0zM823.6 215.0h2.0v2.0h-2.0zM831.6 225.8h2.0v2.0h-2.0zM825.9 215.6h2.0v2.0h-2.0zM834.5 224.2h2.0v2.0h-2.0zM834.4 225.3h2.0v2.0h-2.0zM839.1 215.0h2.0v2.0h-2.0zM833.6 223.8h2.0v2.0h-2.0zM830.8 179.2h2.0v2.0h-2.0zM822.6 226.4h2.0v2.0h-2.0zM817.1 227.4h2.0v2.0h-2.0zM831.6 226.0h2.0v2.0h-2.0zM837.0 224.3h2.0v2.0h-2.0zM834.5 213.6h2.0v2.0h-2.0zM837.6 178.0h2.0v2.0h-2.0zM832.4 214.4h2.0v2.0h-2.0zM831.2 229.2h2.0v2.0h-2.0zM831.2 227.1h2.0v2.0h-2.0zM824.0 226.5h2.0v2.0h-2.0zM831.2 227.2h2.0v2.0h-2.0zM820.3 228.1h2.0v2.0h-2.0z" fill="#ff5e30"/>
<path d="M823.9 223.3h2.0v2.0h-2.0zM831.8 178.2h2.0v2.0h-2.0zM828.9 223.8h2.0v2.0h-2.0zM837.2 227.3h2.0v2.0h-2.0zM810.4 224.0h2.0v2.0h-2.0zM821.3 227.0h2.0v2.0h-2.0zM833.6 174.0h2.0v2.0h-2.0zM831.1 223.2h2.0v2.0h-2.0zM833.3 223.6h2.0v2.0h-2.0zM839.5 222.9h2.0v2.0h-2.0z" fill="#ff3f20"/>
<path d="M815.0 181.2h2.0v2.0h-2.0zM831.5 228.8h2.0v2.0h-2.0zM814.4 221.2h2.0v2.0h-2.0zM835.4 229.9h2.0v2.0h-2.0z" fill="#8000ff"/>
<path d="M825.8 226.1h2.0v2.0h-2.0zM807.8 231.0h2.0v2.0h-2.0zM823.7 222.6h2.0v2.0h-2.0zM848.6 225.2h2.0v2.0h-2.0zM836.2 224.3h2.0v2.0h-2.0zM819.9 220.3h2.0v2.0h-2.0z" fill="#6b20fe"/>
<path d="M816.8 178.0h2.0v2.0h-2.0z" fill="#573ffd"/>
<path d="M832.0 224.9h2.0v2.0h-2.0z" fill="#425efa"/>
<path d="M836.6 174.6h2.0v2.0h-2.0zM836.6 227.4h2.0v2.0h-2.0z" fill="#2e7bf7"/>
<path d="M816.2 210.8h2.0v2.0h-2.0zM807.2 224.4h2.0v2.0h-2.0zM843.1 227.8h2.0v2.0h-2.0z" fill="#1996f3"/>
<path d="M821.2 225.2h2.0v2.0h-2.0z" fill="#24d7df"/>
<path d="M811.0 225.5h2.0v2.0h-2.0zM831.1 228.9h2.0v2.0h-2.0z" fill="#38e7d7"/>
<path d="M854.6 224.4h2.0v2.0h-2.0zM830.6 225.9h2.0v2.0h-2.0zM837.3 230.6h2.0v2.0h-2.0z" fill="#4df3ce"/>
<path d="M839.0 220.4h2.0v2.0h-2.0zM839.5 224.1h2.0v2.0h-2.0z" fill="#8afeaf"/>
<path d="M843.1 225.6h2.0v2.0h-2.0zM813.4 229.0h2.0v2.0h-2.0z" fill="#9efaa3"/>
<path d="M829.5 222.6h2.0v2.0h-2.0zM820.2 223.3h2.0v2.0h-2.0zM857.0 222.0h2.0v2.0h-2.0z" fill="#b2f396"/>
<path d="M842.5 226.7h2.0v2.0h-2.0zM820.3 229.7h2.0v2.0h-2.0z" fill="#c7e789"/>
<path d="M854.0 214.0h2.0v2.0h-2.0z" fill="#ffaf5e"/>
<path d="M858.8 229.2h2.0v2.0h-2.0zM859.4 224.4h2.0v2.0h-2.0zM818.4 224.5h2.0v2.0h-2.0zM828.6 225.8h2.0v2.0h-2.0zM846.8 214.3h2.0v2.0h-2.0zM832.9 229.2h2.0v2.0h-2.0zM838.6 225.9h2.0v2.0h-2.0z" fill="#ff964f"/>
<path d="M830.3 225.8h2.0v2.0h-2.0zM832.7 223.9h2.0v2.0h-2.0zM821.3 227.3h2.0v2.0h-2.0zM827.5 225.6h2.0v2.0h-2.0z" fill="#ff7b3f"/>
<path d="M847.7 212.7h2.0v2.0h-2.0zM825.7 226.4h2.0v2.0h-2.0zM831.9 226.6h2.0v2.0h-2.0zM817.8 228.1h2.0v2.0h-2.0zM828.4 227.1h2.0v2.0h-2.0zM837.7 223.2h2.0v2.0h-2.0zM835.8 223.9h2.0v2.0h-2.0zM838.2 213.8h2.0v2.0h-2.0zM822.8 223.7h2.0v2.0h-2.0zM829.7 213.3h2.0v2.0h-2.0zM830.3 214.5h2.0v2.0h-2.0zM831.3 223.6h2.0v2.0h-2.0zM848.0 215.3h2.0v2.0h-2.0zM832.2 229.7h2.0v2.0h-2.0zM844.8 215.0h2.0v2.0h-2.0zM826.6 226.4h2.0v2.0h-2.0zM817.8 227.5h2.0v2.0h-2.0zM828.0 226.7h2.0v2.0h-2.0zM814.9 227.2h2.0v2.0h-2.0zM831.1 213.7h2.0v2.0h-2.0zM829.5 226.0h2.0v2.0h-2.0zM822.2 228.1h2.0v2.0h-2.0zM835.0 226.6h2.0v2.0h-2.0zM828.6 222.7h2.0v2.0h-2.0z" fill="#ff5e30"/>
<path d="M827.4 213.8h2.0v2.0h-2.0zM822.3 213.2h2.0v2.0h-2.0zM825.5 228.8h2.0v2.0h-2.0zM819.5 228.1h2.0v2.0h-2.0zM823.4 227.5h2.0v2.0h-2.0zM821.0 225.3h2.0v2.0h-2.0zM819.6 226.2h2.0v2.0h-2.0zM829.2 224.6h2.0v2.0h-2.0zM825.7 227.7h2.0v2.0h-2.0zM837.6 226.1h2.0v2.0h-2.0zM834.0 180.8h2.0v2.0h-2.0zM826.7 229.5h2.0v2.0h-2.0z" fill="#ff3f20"/>
<path d="M815.6 227.8h2.0v2.0h-2.0zM810.2 235.2h2.0v2.0h-2.0zM833.0 234.8h2.0v2.0h-2.0z" fill="#8000ff"/>
<path d="M839.1 225.7h2.0v2.0h-2.0zM845.6 227.8h2.0v2.0h-2.0zM812.4 225.9h2.0v2.0h-2.0zM821.2 226.1h2.0v2.0h-2.0z" fill="#6b20fe"/>
<path d="M831.7 225.4h2.0v2.0h-2.0z" fill="#425efa"/>
<path d="M826.4 220.8h2.0v2.0h-2.0z" fill="#2e7bf7"/>
<path d="M813.6 226.7h2.0v2.0h-2.0zM837.6 170.4h2.0v2.0h-2.0z" fill="#1996f3"/>
<path d="M826.2 230.2h2.0v2.0h-2.0zM839.2 228.9h2.0v2.0h-2.0z" fill="#24d7df"/>
<path d="M840.3 231.3h2.0v2.0h-2.0z" fill="#38e7d7"/>
<path d="M827.0 216.3h2.0v2.0h-2.0zM825.3 227.8h2.0v2.0h-2.0zM821.3 222.7h2.0v2.0h-2.0zM836.6 224.0h2.0v2.0h-2.0z" fill="#8afeaf"/>
<path d="M801.2 224.4h2.0v2.0h-2.0z" fill="#9efaa3"/>
<path d="M818.8 180.0h2.0v2.0h-2.0zM827.6 223.7h2.0v2.0h-2.0zM825.0 223.6h2.0v2.0h-2.0z" fill="#b2f396"/>
<path d="M828.4 231.9h2.0v2.0h-2.0zM830.7 220.4h2.0v2.0h-2.0zM829.8 224.7h2.0v2.0h-2.0zM819.8 237.6h2.0v2.0h-2.0zM818.9 226.1h2.0v2.0h-2.0z" fill="#c7e789"/>
<path d="M828.8 226.1h2.0v2.0h-2.0zM833.0 225.7h2.0v2.0h-2.0zM804.8 230.4h2.0v2.0h-2.0zM836.6 229.8h2.0v2.0h-2.0zM826.3 230.3h2.0v2.0h-2.0zM838.6 214.7h2.0v2.0h-2.0zM830.7 222.8h2.0v2.0h-2.0zM833.9 225.6h2.0v2.0h-2.0z" fill="#ff964f"/>
<path d="M817.7 226.9h2.0v2.0h-2.0z" fill="#ff7b3f"/>
<path d="M814.3 226.9h2.0v2.0h-2.0zM820.2 228.1h2.0v2.0h-2.0zM838.9 226.5h2.0v2.0h-2.0zM822.3 220.9h2.0v2.0h-2.0zM839.6 220.4h2.0v2.0h-2.0zM821.0 228.2h2.0v2.0h-2.0zM828.8 227.1h2.0v2.0h-2.0zM836.8 227.5h2.0v2.0h-2.0zM830.5 212.6h2.0v2.0h-2.0zM841.9 212.6h2.0v2.0h-2.0zM825.8 223.2h2.0v2.0h-2.0zM843.2 225.8h2.0v2.0h-2.0zM837.2 177.2h2.0v2.0h-2.0zM825.8 169.8h2.0v2.0h-2.0zM826.5 221.3h2.0v2.0h-2.0zM841.4 226.2h2.0v2.0h-2.0zM821.1 216.4h2.0v2.0h-2.0zM822.8 178.0h2.0v2.0h-2.0zM831.4 229.5h2.0v2.0h-2.0zM830.4 225.4h2.0v2.0h-2.0zM835.0 223.4h2.0v2.0h-2.0zM814.8 229.6h2.0v2.0h-2.0zM822.9 222.6h2.0v2.0h-2.0zM836.2 212.7h2.0v2.0h-2.0zM827.8 227.1h2.0v2.0h-2.0zM831.9 226.5h2.0v2.0h-2.0zM823.8 227.9h2.0v2.0h-2.0zM840.4 214.9h2.0v2.0h-2.0zM825.1 222.9h2.0v2.0h-2.0zM839.2 224.8h2.0v2.0h-2.0z" fill="#ff5e30"/>
<path d="M837.1 227.7h2.0v2.0h-2.0zM844.5 214.0h2.0v2.0h-2.0zM826.9 221.3h2.0v2.0h-2.0zM825.1 226.7h2.0v2.0h-2.0zM822.4 215.8h2.0v2.0h-2.0zM825.1 213.4h2.0v2.0h-2.0zM818.5 228.6h2.0v2.0h-2.0zM814.4 225.5h2.0v2.0h-2.0zM832.2 229.7h2.0v2.0h-2.0zM828.0 221.7h2.0v2.0h-2.0zM826.2 225.8h2.0v2.0h-2.0zM840.9 214.3h2.0v2.0h-2.0zM826.4 177.2h2.0v2.0h-2.0z" fill="#ff3f20"/>
<path d="M831.8 223.6h2.0v2.0h-2.0zM817.2 231.0h2.0v2.0h-2.0zM832.9 222.5h2.0v2.0h-2.0z" fill="#8000ff"/>
<path d="M829.2 174.1h2.0v2.0h-2.0zM833.9 220.0h2.0v2.0h-2.0z" fill="#2e7bf7"/>
<path d="M821.2 177.0h2.0v2.0h-2.0zM798.0 229.8h2.0v2.0h-2.0z" fill="#1996f3"/>
<path d="M832.6 228.9h2.0v2.0h-2.0z" fill="#05afed"/>
<path d="M831.8 220.2h2.0v2.0h-2.0zM819.7 229.4h2.0v2.0h-2.0z" fill="#24d7df"/>
<path d="M818.5 232.3h2.0v2.0h-2.0zM820.5 223.4h2.0v2.0h-2.0zM840.8 177.8h2.0v2.0h-2.0zM834.1 230.3h2.0v2.0h-2.0zM839.0 221.3h2.0v2.0h-2.0zM835.2 229.4h2.0v2.0h-2.0z" fill="#8afeaf"/>
<path d="M823.2 225.9h2.0v2.0h-2.0zM841.7 224.0h2.0v2.0h-2.0zM828.6 218.6h2.0v2.0h-2.0z" fill="#9efaa3"/>
<path d="M840.4 222.2h2.0v2.0h-2.0zM832.3 230.9h2.0v2.0h-2.0zM807.2 235.8h2.0v2.0h-2.0zM821.6 236.4h2.0v2.0h-2.0z" fill="#b2f396"/>
<path d="M839.5 225.7h2.0v2.0h-2.0zM824.5 227.5h2.0v2.0h-2.0zM834.8 219.0h2.0v2.0h-2.0zM839.4 226.4h2.0v2.0h-2.0z" fill="#c7e789"/>
<path d="M818.2 223.9h2.0v2.0h-2.0zM822.5 227.7h2.0v2.0h-2.0zM828.3 224.4h2.0v2.0h-2.0z" fill="#ffaf5e"/>
<path d="M831.4 225.2h2.0v2.0h-2.0zM860.0 211.8h2.0v2.0h-2.0z" fill="#ff964f"/>
<path d="M821.8 224.8h2.0v2.0h-2.0zM825.3 215.6h2.0v2.0h-2.0zM833.1 228.3h2.0v2.0h-2.0z" fill="#ff7b3f"/>
<path d="M828.4 227.9h2.0v2.0h-2.0zM817.1 223.8h2.0v2.0h-2.0zM835.2 214.0h2.0v2.0h-2.0zM832.0 223.0h2.0v2.0h-2.0zM831.1 226.5h2.0v2.0h-2.0zM828.7 227.3h2.0v2.0h-2.0zM821.7 225.5h2.0v2.0h-2.0zM841.4 226.2h2.0v2.0h-2.0zM817.7 221.1h2.0v2.0h-2.0zM832.9 226.5h2.0v2.0h-2.0zM834.0 226.0h2.0v2.0h-2.0zM821.0 223.2h2.0v2.0h-2.0zM821.3 226.5h2.0v2.0h-2.0zM822.5 224.2h2.0v2.0h-2.0zM825.8 177.0h2.0v2.0h-2.0zM826.2 224.7h2.0v2.0h-2.0zM826.9 225.5h2.0v2.0h-2.0zM825.9 224.3h2.0v2.0h-2.0zM823.3 227.9h2.0v2.0h-2.0zM824.3 220.7h2.0v2.0h-2.0zM836.9 216.2h2.0v2.0h-2.0zM828.4 223.5h2.0v2.0h-2.0zM825.0 215.2h2.0v2.0h-2.0zM840.8 215.0h2.0v2.0h-2.0zM836.2 222.4h2.0v2.0h-2.0zM820.5 225.4h2.0v2.0h-2.0zM825.2 227.4h2.0v2.0h-2.0zM828.2 225.0h2.0v2.0h-2.0zM815.4 226.9h2.0v2.0h-2.0zM824.1 214.4h2.0v2.0h-2.0zM837.9 214.9h2.0v2.0h-2.0zM825.9 214.6h2.0v2.0h-2.0zM828.4 227.8h2.0v2.0h-2.0zM839.8 214.9h2.0v2.0h-2.0zM831.4 215.2h2.0v2.0h-2.0z" fill="#ff5e30"/>
<path d="M830.0 225.9h2.0v2.0h-2.0zM824.4 225.5h2.0v2.0h-2.0zM827.6 224.1h2.0v2.0h-2.0zM833.1 224.6h2.0v2.0h-2.0zM827.4 215.2h2.0v2.0h-2.0zM822.2 220.6h2.0v2.0h-2.0zM832.3 225.0h2.0v2.0h-2.0zM840.1 215.7h2.0v2.0h-2.0zM829.1 230.1h2.0v2.0h-2.0zM837.6 226.0h2.0v2.0h-2.0z" fill="#ff3f20"/></g>
</g>
<g fill="none" stroke="#000">
<path d="M241.65 158V653.5" stroke-width="1.35"/>
<path d="M241 653H753" stroke-width="2"/>
<path d="M242 158V54H862V653H752" stroke-width="2" stroke-linejoin="miter"/>
<path d="M752.5 53V654" stroke-width="3"/>
<path d="M241 157.5H863" stroke-width="3"/>
</g>
<text x="219.0" y="52.2" font-size="10">15</text>
<text x="219.0" y="87.2" font-size="10">10</text>
<text x="220.2" y="121.7" font-size="10">5</text>
<text x="220.2" y="156.6" font-size="10">0</text>
<text x="186.2" y="105" font-size="12">Km</text>
<text x="753.6" y="666.9" font-size="10">0</text>
<text x="789.2" y="666.9" font-size="10">5</text>
<text x="825.2" y="666.9" font-size="10">10</text>
<text x="862.4" y="666.9" font-size="10">15</text>
<text x="806.8" y="675.7" font-size="12">Km</text>
<text y="83.65" font-size="10" text-anchor="middle" style="fill:#ff0000"><tspan x="772.9">6</tspan><tspan x="784.4">:</tspan><tspan x="815.7">406</tspan></text>
<text y="93.70" font-size="10" text-anchor="middle"><tspan x="772.9">7</tspan><tspan x="784.4">:</tspan><tspan x="815.7">198</tspan></text>
<text y="104.60" font-size="10" text-anchor="middle"><tspan x="772.9">8</tspan><tspan x="784.4">:</tspan><tspan x="815.7">54</tspan></text>
<text y="114.60" font-size="10" text-anchor="middle"><tspan x="772.9">9</tspan><tspan x="784.4">:</tspan><tspan x="815.7">0</tspan></text>
<text y="125.60" font-size="10" text-anchor="middle"><tspan x="772.9">10</tspan><tspan x="787.7">:</tspan><tspan x="818.85">0</tspan></text>
<text y="135.60" font-size="10" text-anchor="middle"><tspan x="772.9">11</tspan><tspan x="787.7">:</tspan><tspan x="818.85">0</tspan></text>
<text y="145.70" font-size="10" text-anchor="middle"><tspan x="772.9">12</tspan><tspan x="787.7">:</tspan><tspan x="818.85">0</tspan></text>
<text x="234.3" y="655" font-size="10" text-anchor="end">40°N</text>
<text x="234.3" y="608" font-size="10" text-anchor="end">40.5°N</text>
<text x="234.3" y="559" font-size="10" text-anchor="end">41°N</text>
<text x="234.3" y="511" font-size="10" text-anchor="end">41.5°N</text>
<text x="234.3" y="462" font-size="10" text-anchor="end">42°N</text>
<text x="234.3" y="413" font-size="10" text-anchor="end">42.5°N</text>
<text x="234.3" y="363" font-size="10" text-anchor="end">43°N</text>
<text x="234.3" y="313" font-size="10" text-anchor="end">43.5°N</text>
<text x="234.3" y="262" font-size="10" text-anchor="end">44°N</text>
<text x="234.3" y="211" font-size="10" text-anchor="end">44.5°N</text>
<text x="241.80" y="666.8" font-size="10" text-anchor="middle">5°E</text>
<text x="278.30" y="666.8" font-size="10" text-anchor="middle">5.5°E</text>
<text x="314.80" y="666.8" font-size="10" text-anchor="middle">6°E</text>
<text x="351.30" y="666.8" font-size="10" text-anchor="middle">6.5°E</text>
<text x="387.80" y="666.8" font-size="10" text-anchor="middle">7°E</text>
<text x="424.30" y="666.8" font-size="10" text-anchor="middle">7.5°E</text>
<text x="460.80" y="666.8" font-size="10" text-anchor="middle">8°E</text>
<text x="497.30" y="666.8" font-size="10" text-anchor="middle">8.5°E</text>
<text x="533.80" y="666.8" font-size="10" text-anchor="middle">9°E</text>
<text x="570.30" y="666.8" font-size="10" text-anchor="middle">9.5°E</text>
<text x="606.80" y="666.8" font-size="10" text-anchor="middle">10°E</text>
<text x="643.30" y="666.8" font-size="10" text-anchor="middle">10.5°E</text>
<text x="679.80" y="666.8" font-size="10" text-anchor="middle">11°E</text>
<text x="716.30" y="666.8" font-size="10" text-anchor="middle">11.5°E</text>
<rect x="158.4" y="690.3" width="787" height="38" fill="url(#rb)" stroke="#111" stroke-width="1"/>
<text x="158.40" y="742.9" font-size="10" text-anchor="middle">0</text>
<text x="315.80" y="742.9" font-size="10" text-anchor="middle">2</text>
<text x="473.20" y="742.9" font-size="10" text-anchor="middle">4</text>
<text x="630.60" y="742.9" font-size="10" text-anchor="middle">6</text>
<text x="788.00" y="742.9" font-size="10" text-anchor="middle">8</text>
<text x="945.40" y="742.9" font-size="10" text-anchor="middle">10</text>
<path d="M158.40 728.8V732.3M315.80 728.8V732.3M473.20 728.8V732.3M630.60 728.8V732.3M788.00 728.8V732.3M945.40 728.8V732.3" stroke="#111" stroke-width="1" fill="none"/>
<text x="433.3" y="718.9" font-size="19.3" textLength="247.5" lengthAdjust="spacingAndGlyphs">from 16:10:00 to 16:19:59</text>
</svg></body></html>
